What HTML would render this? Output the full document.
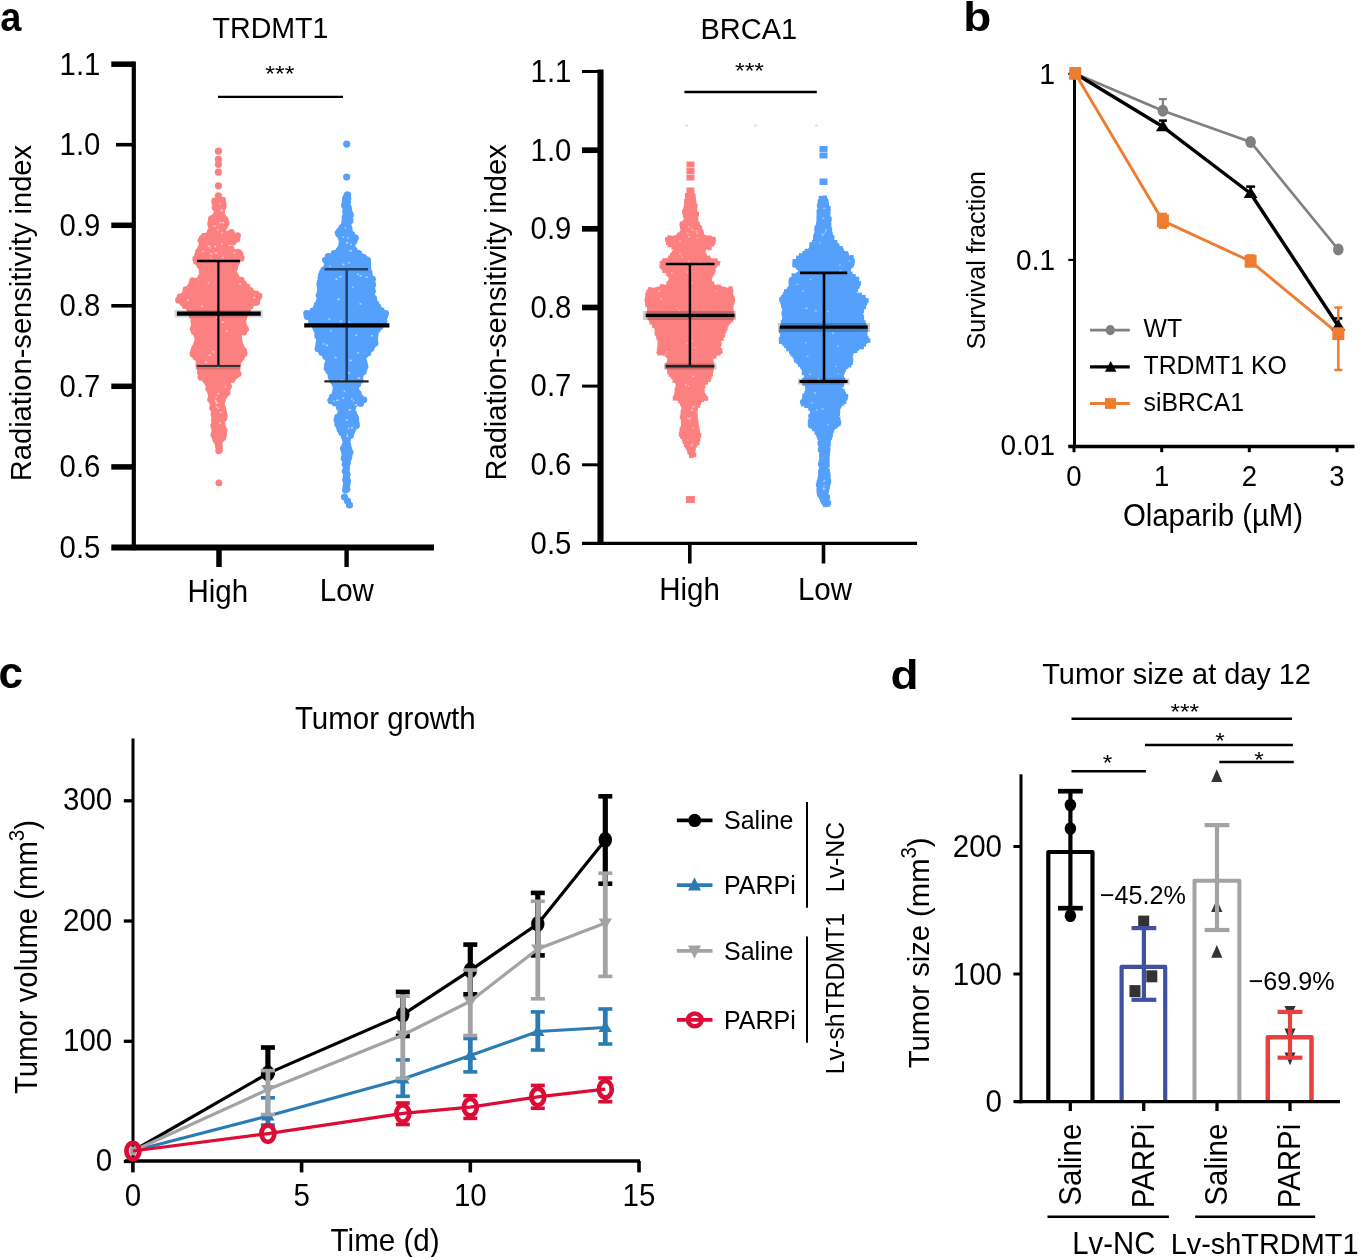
<!DOCTYPE html>
<html><head><meta charset="utf-8"><style>
html,body{margin:0;padding:0;background:#fff;overflow:hidden;}
svg{display:block;will-change:transform;}
text{font-family:"Liberation Sans",sans-serif;}
</style></head><body>
<svg width="1360" height="1257" viewBox="0 0 1360 1257">
<rect width="1360" height="1257" fill="#fff"/>
<g>
<text x="0.0" y="0.0" font-size="40" text-anchor="start" font-weight="bold" fill="#000" transform="translate(0.3,31.2) scale(0.95,1.0)">a</text>
<polygon points="214.0,199.0 211.6,201.6 213.0,207.3 214.4,214.5 209.4,218.8 207.3,224.5 211.6,230.2 201.5,234.5 197.2,240.2 200.1,246.0 195.8,251.7 193.7,257.4 193.7,261.7 199.4,268.9 200.1,276.0 190.8,280.3 186.5,287.5 180.0,294.7 176.5,297.5 176.6,300.0 182.9,304.7 182.7,306.0 188.6,311.8 189.5,313.6 191.7,322.7 189.5,330.2 196.3,336.3 192.5,345.3 189.5,352.9 196.3,360.5 197.0,368.0 197.8,375.6 205.3,383.1 206.9,390.7 208.4,398.2 209.9,405.8 211.4,413.3 212.1,420.9 211.4,428.5 211.4,436.0 214.4,443.6 215.9,449.6 216.5,452.0 221.0,452.0 222.0,449.6 222.0,443.6 226.5,436.0 225.7,428.5 225.0,420.9 227.3,413.3 223.5,405.8 226.5,398.2 230.3,390.7 231.0,383.1 240.1,375.6 240.1,368.0 241.6,360.5 247.7,352.9 243.9,345.3 240.1,336.3 249.2,330.2 245.4,322.7 246.9,313.6 248.8,311.8 253.7,306.0 258.8,304.7 260.5,300.0 261.7,297.5 260.2,294.7 250.2,287.5 243.1,280.3 237.3,276.0 235.9,268.9 240.2,261.7 244.5,257.4 241.6,251.7 227.3,246.0 239.5,240.2 240.2,234.5 225.2,230.2 229.5,224.5 228.0,218.8 223.0,214.5 226.6,207.3 225.9,201.6 223.0,199.0" fill="#fd8081"/>
<g fill="#fd8081"><circle cx="214.7" cy="201.0" r="3.4"/><circle cx="222.6" cy="200.2" r="3.4"/><circle cx="215.2" cy="204.0" r="3.4"/><circle cx="223.0" cy="204.3" r="3.4"/><circle cx="215.0" cy="207.5" r="3.4"/><circle cx="222.4" cy="206.9" r="3.4"/><circle cx="217.3" cy="210.1" r="3.4"/><circle cx="220.9" cy="210.6" r="3.4"/><circle cx="216.6" cy="214.0" r="3.4"/><circle cx="221.6" cy="212.6" r="3.4"/><circle cx="213.9" cy="217.3" r="3.4"/><circle cx="222.5" cy="216.4" r="3.4"/><circle cx="211.4" cy="219.0" r="3.4"/><circle cx="225.0" cy="219.4" r="3.4"/><circle cx="210.8" cy="222.6" r="3.4"/><circle cx="226.0" cy="222.6" r="3.4"/><circle cx="211.0" cy="225.9" r="3.4"/><circle cx="225.1" cy="225.4" r="3.4"/><circle cx="214.9" cy="229.6" r="3.4"/><circle cx="222.9" cy="228.9" r="3.4"/><circle cx="210.2" cy="232.0" r="3.4"/><circle cx="231.4" cy="232.3" r="3.4"/><circle cx="204.1" cy="236.5" r="3.4"/><circle cx="237.5" cy="235.7" r="3.4"/><circle cx="202.0" cy="238.7" r="3.4"/><circle cx="237.0" cy="239.1" r="3.4"/><circle cx="202.2" cy="242.2" r="3.4"/><circle cx="233.1" cy="242.3" r="3.4"/><circle cx="201.7" cy="245.9" r="3.4"/><circle cx="224.9" cy="245.3" r="3.4"/><circle cx="200.4" cy="248.9" r="3.4"/><circle cx="230.9" cy="248.9" r="3.4"/><circle cx="198.5" cy="251.8" r="3.4"/><circle cx="238.4" cy="252.2" r="3.4"/><circle cx="197.7" cy="255.0" r="3.4"/><circle cx="240.0" cy="254.2" r="3.4"/><circle cx="195.7" cy="259.0" r="3.4"/><circle cx="241.1" cy="258.3" r="3.4"/><circle cx="196.5" cy="261.4" r="3.4"/><circle cx="236.6" cy="262.2" r="3.4"/><circle cx="199.7" cy="265.2" r="3.4"/><circle cx="235.5" cy="264.2" r="3.4"/><circle cx="201.6" cy="267.9" r="3.4"/><circle cx="234.6" cy="267.7" r="3.4"/><circle cx="202.1" cy="271.7" r="3.4"/><circle cx="233.4" cy="270.2" r="3.4"/><circle cx="203.7" cy="274.8" r="3.4"/><circle cx="234.7" cy="274.6" r="3.4"/><circle cx="200.9" cy="277.5" r="3.4"/><circle cx="236.2" cy="277.3" r="3.4"/><circle cx="192.6" cy="280.7" r="3.4"/><circle cx="241.2" cy="280.1" r="3.4"/><circle cx="191.8" cy="283.6" r="3.4"/><circle cx="243.5" cy="283.6" r="3.4"/><circle cx="190.0" cy="287.2" r="3.4"/><circle cx="246.9" cy="286.9" r="3.4"/><circle cx="186.0" cy="289.7" r="3.4"/><circle cx="250.2" cy="290.3" r="3.4"/><circle cx="185.1" cy="293.9" r="3.4"/><circle cx="256.1" cy="293.9" r="3.4"/><circle cx="180.1" cy="296.9" r="3.4"/><circle cx="259.0" cy="295.9" r="3.4"/><circle cx="178.5" cy="300.2" r="3.4"/><circle cx="256.4" cy="299.4" r="3.4"/><circle cx="182.7" cy="302.8" r="3.4"/><circle cx="256.7" cy="302.3" r="3.4"/><circle cx="185.1" cy="305.7" r="3.4"/><circle cx="250.5" cy="305.8" r="3.4"/><circle cx="189.7" cy="309.1" r="3.4"/><circle cx="247.7" cy="309.4" r="3.4"/><circle cx="190.9" cy="312.5" r="3.4"/><circle cx="244.6" cy="312.1" r="3.4"/><circle cx="192.2" cy="315.8" r="3.4"/><circle cx="244.4" cy="315.3" r="3.4"/><circle cx="194.1" cy="318.2" r="3.4"/><circle cx="243.7" cy="318.2" r="3.4"/><circle cx="193.8" cy="321.7" r="3.4"/><circle cx="242.9" cy="322.5" r="3.4"/><circle cx="194.4" cy="325.0" r="3.4"/><circle cx="243.8" cy="326.2" r="3.4"/><circle cx="193.7" cy="328.2" r="3.4"/><circle cx="245.4" cy="328.8" r="3.4"/><circle cx="194.1" cy="331.5" r="3.4"/><circle cx="243.9" cy="332.0" r="3.4"/><circle cx="196.9" cy="335.7" r="3.4"/><circle cx="238.5" cy="335.6" r="3.4"/><circle cx="198.1" cy="337.9" r="3.4"/><circle cx="238.7" cy="338.9" r="3.4"/><circle cx="197.8" cy="341.0" r="3.4"/><circle cx="239.0" cy="340.6" r="3.4"/><circle cx="196.8" cy="345.1" r="3.4"/><circle cx="239.4" cy="345.3" r="3.4"/><circle cx="194.7" cy="348.4" r="3.4"/><circle cx="241.3" cy="348.6" r="3.4"/><circle cx="193.8" cy="350.8" r="3.4"/><circle cx="243.7" cy="350.8" r="3.4"/><circle cx="193.0" cy="354.1" r="3.4"/><circle cx="244.0" cy="353.7" r="3.4"/><circle cx="195.6" cy="357.1" r="3.4"/><circle cx="241.4" cy="357.4" r="3.4"/><circle cx="199.0" cy="361.2" r="3.4"/><circle cx="239.4" cy="359.8" r="3.4"/><circle cx="199.0" cy="364.6" r="3.4"/><circle cx="237.5" cy="364.3" r="3.4"/><circle cx="199.6" cy="367.3" r="3.4"/><circle cx="236.6" cy="367.5" r="3.4"/><circle cx="201.3" cy="370.8" r="3.4"/><circle cx="236.7" cy="370.5" r="3.4"/><circle cx="200.6" cy="373.0" r="3.4"/><circle cx="238.2" cy="373.8" r="3.4"/><circle cx="200.9" cy="377.3" r="3.4"/><circle cx="235.0" cy="376.1" r="3.4"/><circle cx="205.7" cy="380.3" r="3.4"/><circle cx="232.2" cy="379.6" r="3.4"/><circle cx="207.9" cy="383.6" r="3.4"/><circle cx="227.6" cy="383.2" r="3.4"/><circle cx="210.1" cy="385.6" r="3.4"/><circle cx="228.6" cy="386.3" r="3.4"/><circle cx="208.7" cy="388.7" r="3.4"/><circle cx="226.3" cy="390.0" r="3.4"/><circle cx="211.0" cy="392.3" r="3.4"/><circle cx="227.1" cy="392.8" r="3.4"/><circle cx="211.7" cy="395.9" r="3.4"/><circle cx="224.4" cy="395.4" r="3.4"/><circle cx="210.6" cy="399.6" r="3.4"/><circle cx="222.6" cy="399.1" r="3.4"/><circle cx="213.3" cy="401.8" r="3.4"/><circle cx="221.8" cy="402.7" r="3.4"/><circle cx="213.7" cy="405.7" r="3.4"/><circle cx="219.4" cy="404.7" r="3.4"/><circle cx="212.6" cy="407.9" r="3.4"/><circle cx="222.8" cy="408.2" r="3.4"/><circle cx="215.3" cy="411.2" r="3.4"/><circle cx="223.3" cy="411.3" r="3.4"/><circle cx="214.0" cy="414.4" r="3.4"/><circle cx="224.3" cy="415.7" r="3.4"/><circle cx="214.6" cy="418.9" r="3.4"/><circle cx="223.9" cy="417.9" r="3.4"/><circle cx="214.5" cy="420.8" r="3.4"/><circle cx="221.9" cy="421.6" r="3.4"/><circle cx="213.7" cy="425.4" r="3.4"/><circle cx="221.1" cy="424.3" r="3.4"/><circle cx="214.8" cy="427.5" r="3.4"/><circle cx="222.5" cy="427.1" r="3.4"/><circle cx="215.5" cy="431.8" r="3.4"/><circle cx="224.0" cy="430.4" r="3.4"/><circle cx="213.8" cy="435.0" r="3.4"/><circle cx="223.5" cy="434.3" r="3.4"/><circle cx="215.5" cy="437.0" r="3.4"/><circle cx="223.0" cy="437.5" r="3.4"/><circle cx="215.8" cy="439.9" r="3.4"/><circle cx="220.1" cy="440.2" r="3.4"/><circle cx="218.7" cy="444.0" r="3.4"/><circle cx="218.8" cy="444.0" r="3.4"/><circle cx="219.4" cy="446.7" r="3.4"/><circle cx="218.7" cy="446.7" r="3.4"/><circle cx="218.7" cy="450.8" r="3.4"/><circle cx="219.5" cy="449.9" r="3.4"/></g>
<g fill="#fff" opacity="0.55"><rect x="221.1" y="313.5" width="2.5" height="1.6"/><rect x="218.7" y="316.8" width="2.0" height="1.6"/><rect x="214.1" y="245.7" width="2.0" height="1.6"/><rect x="214.4" y="399.6" width="1.6" height="1.6"/><rect x="221.8" y="221.9" width="2.1" height="1.6"/><rect x="220.4" y="209.6" width="2.5" height="1.6"/><rect x="222.7" y="364.4" width="1.3" height="1.6"/><rect x="219.1" y="202.8" width="1.2" height="1.6"/><rect x="209.3" y="247.1" width="1.2" height="1.6"/><rect x="215.6" y="316.4" width="2.3" height="1.6"/><rect x="226.2" y="330.3" width="1.8" height="1.6"/><rect x="217.2" y="366.6" width="1.5" height="1.6"/><rect x="219.9" y="411.6" width="1.6" height="1.6"/><rect x="210.5" y="257.1" width="1.2" height="1.6"/><rect x="217.1" y="392.9" width="2.3" height="1.6"/><rect x="253.2" y="296.8" width="2.3" height="1.6"/><rect x="233.5" y="252.1" width="1.8" height="1.6"/><rect x="187.0" y="299.5" width="2.0" height="1.6"/><rect x="215.6" y="396.0" width="1.2" height="1.6"/><rect x="239.2" y="283.1" width="2.2" height="1.6"/><rect x="217.0" y="228.9" width="1.3" height="1.6"/><rect x="215.1" y="400.6" width="1.9" height="1.6"/><rect x="203.3" y="312.2" width="2.2" height="1.6"/><rect x="221.6" y="232.1" width="1.3" height="1.6"/><rect x="201.2" y="305.5" width="1.5" height="1.6"/><rect x="215.9" y="402.3" width="2.4" height="1.6"/><rect x="214.9" y="252.3" width="2.4" height="1.6"/><rect x="204.9" y="361.4" width="2.5" height="1.6"/><rect x="209.9" y="253.0" width="2.2" height="1.6"/><rect x="208.1" y="282.2" width="1.2" height="1.6"/><rect x="219.4" y="221.8" width="1.5" height="1.6"/><rect x="212.5" y="351.1" width="1.8" height="1.6"/><rect x="221.8" y="321.4" width="2.4" height="1.6"/><rect x="207.7" y="245.3" width="2.4" height="1.6"/><rect x="215.8" y="405.9" width="1.4" height="1.6"/><rect x="224.8" y="386.1" width="1.4" height="1.6"/><rect x="218.9" y="422.2" width="1.7" height="1.6"/><rect x="213.3" y="225.3" width="2.5" height="1.6"/><rect x="226.1" y="259.3" width="1.5" height="1.6"/><rect x="217.7" y="407.4" width="1.5" height="1.6"/><rect x="221.1" y="243.4" width="1.2" height="1.6"/><rect x="221.4" y="256.8" width="2.3" height="1.6"/><rect x="208.6" y="354.4" width="2.4" height="1.6"/><rect x="202.2" y="250.6" width="1.5" height="1.6"/><rect x="196.6" y="311.8" width="1.4" height="1.6"/></g>
<circle cx="218.4" cy="151.2" r="3.6" fill="#fd8081" stroke="none" stroke-width="0"/>
<circle cx="218.4" cy="159.3" r="3.6" fill="#fd8081" stroke="none" stroke-width="0"/>
<circle cx="218.4" cy="164.3" r="3.6" fill="#fd8081" stroke="none" stroke-width="0"/>
<circle cx="218.4" cy="172.2" r="3.6" fill="#fd8081" stroke="none" stroke-width="0"/>
<circle cx="218.4" cy="185.8" r="3.6" fill="#fd8081" stroke="none" stroke-width="0"/>
<circle cx="218.4" cy="195.8" r="3.6" fill="#fd8081" stroke="none" stroke-width="0"/>
<circle cx="218.9" cy="482.9" r="3.4" fill="#fd8081" stroke="none" stroke-width="0"/>
<polygon points="344.0,194.0 342.3,196.8 341.5,205.7 343.7,211.6 342.3,219.7 340.8,224.8 334.2,232.2 338.6,238.1 338.6,245.4 334.2,251.3 321.7,258.7 324.6,264.6 320.2,271.9 318.7,279.3 317.2,286.7 317.2,294.0 316.7,300.0 314.2,306.7 304.7,313.9 305.0,317.0 310.0,322.0 315.0,333.4 316.7,341.8 315.0,350.1 325.9,358.5 324.3,366.9 328.4,375.2 330.0,381.4 333.5,386.9 331.8,393.6 326.8,400.3 333.0,404.0 340.1,408.6 335.1,417.0 334.3,425.3 340.1,433.7 342.6,442.1 341.0,450.4 342.6,462.1 343.5,472.1 343.5,480.5 342.6,486.4 344.0,490.0 349.0,490.0 350.2,486.4 350.2,480.5 349.3,472.1 350.2,462.1 352.7,450.4 349.3,442.1 353.5,433.7 359.4,425.3 358.5,417.0 353.5,408.6 362.0,404.0 366.9,400.3 360.2,393.6 358.5,386.9 362.0,381.4 363.5,375.2 368.6,366.9 365.2,358.5 373.6,350.1 377.7,341.8 378.6,333.4 385.0,322.0 388.0,317.0 388.6,313.9 380.3,306.7 376.9,300.0 374.7,294.0 375.4,286.7 374.7,279.3 371.0,271.9 371.0,264.6 371.0,258.7 358.5,251.3 354.8,245.4 358.5,238.1 353.3,232.2 350.4,224.8 352.6,219.7 352.6,211.6 350.4,205.7 350.4,196.8 349.0,194.0" fill="#54a0fb"/>
<g fill="#54a0fb"><circle cx="347.2" cy="194.9" r="3.4"/><circle cx="347.8" cy="194.9" r="3.4"/><circle cx="346.0" cy="199.1" r="3.4"/><circle cx="347.9" cy="198.5" r="3.4"/><circle cx="345.1" cy="202.1" r="3.4"/><circle cx="347.6" cy="201.5" r="3.4"/><circle cx="344.4" cy="205.6" r="3.4"/><circle cx="347.1" cy="206.0" r="3.4"/><circle cx="346.6" cy="208.3" r="3.4"/><circle cx="348.5" cy="208.0" r="3.4"/><circle cx="345.6" cy="211.5" r="3.4"/><circle cx="348.4" cy="211.3" r="3.4"/><circle cx="345.9" cy="214.8" r="3.4"/><circle cx="350.5" cy="214.9" r="3.4"/><circle cx="345.0" cy="217.7" r="3.4"/><circle cx="348.4" cy="217.4" r="3.4"/><circle cx="344.9" cy="221.5" r="3.4"/><circle cx="350.1" cy="220.7" r="3.4"/><circle cx="344.9" cy="224.8" r="3.4"/><circle cx="348.2" cy="225.1" r="3.4"/><circle cx="342.0" cy="227.4" r="3.4"/><circle cx="349.1" cy="228.4" r="3.4"/><circle cx="339.6" cy="231.2" r="3.4"/><circle cx="348.9" cy="231.1" r="3.4"/><circle cx="338.5" cy="234.0" r="3.4"/><circle cx="351.9" cy="234.7" r="3.4"/><circle cx="341.0" cy="237.0" r="3.4"/><circle cx="355.4" cy="237.8" r="3.4"/><circle cx="342.6" cy="240.5" r="3.4"/><circle cx="354.2" cy="241.1" r="3.4"/><circle cx="342.2" cy="243.2" r="3.4"/><circle cx="352.6" cy="243.3" r="3.4"/><circle cx="341.1" cy="247.5" r="3.4"/><circle cx="351.8" cy="246.4" r="3.4"/><circle cx="339.2" cy="250.7" r="3.4"/><circle cx="354.2" cy="250.3" r="3.4"/><circle cx="334.1" cy="253.4" r="3.4"/><circle cx="358.7" cy="253.3" r="3.4"/><circle cx="328.2" cy="256.4" r="3.4"/><circle cx="363.4" cy="257.1" r="3.4"/><circle cx="325.5" cy="260.1" r="3.4"/><circle cx="366.9" cy="260.0" r="3.4"/><circle cx="327.8" cy="263.2" r="3.4"/><circle cx="367.2" cy="262.1" r="3.4"/><circle cx="327.2" cy="265.6" r="3.4"/><circle cx="367.4" cy="266.6" r="3.4"/><circle cx="323.9" cy="269.8" r="3.4"/><circle cx="368.0" cy="268.8" r="3.4"/><circle cx="322.5" cy="272.3" r="3.4"/><circle cx="369.1" cy="272.7" r="3.4"/><circle cx="321.4" cy="275.1" r="3.4"/><circle cx="369.5" cy="275.9" r="3.4"/><circle cx="320.9" cy="278.0" r="3.4"/><circle cx="372.5" cy="279.2" r="3.4"/><circle cx="320.1" cy="282.5" r="3.4"/><circle cx="371.3" cy="281.5" r="3.4"/><circle cx="319.8" cy="285.0" r="3.4"/><circle cx="372.7" cy="284.5" r="3.4"/><circle cx="321.4" cy="287.7" r="3.4"/><circle cx="371.3" cy="288.2" r="3.4"/><circle cx="320.5" cy="291.0" r="3.4"/><circle cx="372.5" cy="291.3" r="3.4"/><circle cx="319.1" cy="295.2" r="3.4"/><circle cx="371.8" cy="295.2" r="3.4"/><circle cx="320.9" cy="298.6" r="3.4"/><circle cx="373.7" cy="298.3" r="3.4"/><circle cx="319.2" cy="301.5" r="3.4"/><circle cx="373.8" cy="300.9" r="3.4"/><circle cx="317.2" cy="305.0" r="3.4"/><circle cx="375.9" cy="303.8" r="3.4"/><circle cx="316.3" cy="307.6" r="3.4"/><circle cx="378.0" cy="307.0" r="3.4"/><circle cx="313.0" cy="311.0" r="3.4"/><circle cx="381.4" cy="310.7" r="3.4"/><circle cx="306.6" cy="313.4" r="3.4"/><circle cx="385.7" cy="313.3" r="3.4"/><circle cx="307.1" cy="316.6" r="3.4"/><circle cx="384.0" cy="317.4" r="3.4"/><circle cx="311.5" cy="321.1" r="3.4"/><circle cx="384.1" cy="321.2" r="3.4"/><circle cx="313.1" cy="323.2" r="3.4"/><circle cx="380.9" cy="323.7" r="3.4"/><circle cx="315.5" cy="327.1" r="3.4"/><circle cx="380.0" cy="326.4" r="3.4"/><circle cx="316.4" cy="329.2" r="3.4"/><circle cx="377.5" cy="329.3" r="3.4"/><circle cx="317.8" cy="333.6" r="3.4"/><circle cx="374.7" cy="332.8" r="3.4"/><circle cx="317.7" cy="336.0" r="3.4"/><circle cx="374.5" cy="335.9" r="3.4"/><circle cx="319.4" cy="339.3" r="3.4"/><circle cx="374.8" cy="339.8" r="3.4"/><circle cx="318.9" cy="343.5" r="3.4"/><circle cx="375.1" cy="343.2" r="3.4"/><circle cx="318.7" cy="346.1" r="3.4"/><circle cx="372.6" cy="345.3" r="3.4"/><circle cx="318.0" cy="348.7" r="3.4"/><circle cx="371.0" cy="348.6" r="3.4"/><circle cx="321.8" cy="352.4" r="3.4"/><circle cx="367.9" cy="353.1" r="3.4"/><circle cx="325.5" cy="356.4" r="3.4"/><circle cx="364.5" cy="355.4" r="3.4"/><circle cx="327.7" cy="358.2" r="3.4"/><circle cx="362.7" cy="358.5" r="3.4"/><circle cx="329.1" cy="361.2" r="3.4"/><circle cx="364.0" cy="361.9" r="3.4"/><circle cx="327.5" cy="364.7" r="3.4"/><circle cx="364.8" cy="365.3" r="3.4"/><circle cx="327.1" cy="368.2" r="3.4"/><circle cx="364.1" cy="369.1" r="3.4"/><circle cx="328.7" cy="371.1" r="3.4"/><circle cx="363.3" cy="371.7" r="3.4"/><circle cx="331.0" cy="375.2" r="3.4"/><circle cx="360.6" cy="374.6" r="3.4"/><circle cx="331.3" cy="377.3" r="3.4"/><circle cx="358.9" cy="378.6" r="3.4"/><circle cx="333.3" cy="381.5" r="3.4"/><circle cx="360.1" cy="380.4" r="3.4"/><circle cx="335.4" cy="384.8" r="3.4"/><circle cx="357.7" cy="384.4" r="3.4"/><circle cx="336.0" cy="388.1" r="3.4"/><circle cx="355.5" cy="387.2" r="3.4"/><circle cx="335.6" cy="391.5" r="3.4"/><circle cx="356.4" cy="391.3" r="3.4"/><circle cx="335.6" cy="393.7" r="3.4"/><circle cx="358.3" cy="393.6" r="3.4"/><circle cx="332.1" cy="397.1" r="3.4"/><circle cx="360.2" cy="397.5" r="3.4"/><circle cx="331.0" cy="400.9" r="3.4"/><circle cx="363.9" cy="399.8" r="3.4"/><circle cx="335.0" cy="403.0" r="3.4"/><circle cx="360.7" cy="403.5" r="3.4"/><circle cx="339.3" cy="407.4" r="3.4"/><circle cx="352.8" cy="407.6" r="3.4"/><circle cx="342.7" cy="409.7" r="3.4"/><circle cx="350.4" cy="409.6" r="3.4"/><circle cx="340.8" cy="413.1" r="3.4"/><circle cx="353.6" cy="413.2" r="3.4"/><circle cx="337.6" cy="417.1" r="3.4"/><circle cx="355.2" cy="416.8" r="3.4"/><circle cx="336.9" cy="419.9" r="3.4"/><circle cx="355.8" cy="419.2" r="3.4"/><circle cx="338.5" cy="423.1" r="3.4"/><circle cx="356.0" cy="422.6" r="3.4"/><circle cx="339.0" cy="426.1" r="3.4"/><circle cx="356.5" cy="425.4" r="3.4"/><circle cx="339.9" cy="429.4" r="3.4"/><circle cx="352.5" cy="429.8" r="3.4"/><circle cx="341.5" cy="432.4" r="3.4"/><circle cx="351.4" cy="432.2" r="3.4"/><circle cx="344.2" cy="435.9" r="3.4"/><circle cx="350.5" cy="435.6" r="3.4"/><circle cx="345.8" cy="439.2" r="3.4"/><circle cx="347.5" cy="439.1" r="3.4"/><circle cx="346.3" cy="441.6" r="3.4"/><circle cx="347.1" cy="442.2" r="3.4"/><circle cx="344.8" cy="446.0" r="3.4"/><circle cx="347.9" cy="445.4" r="3.4"/><circle cx="343.3" cy="448.7" r="3.4"/><circle cx="348.7" cy="449.0" r="3.4"/><circle cx="344.6" cy="450.8" r="3.4"/><circle cx="350.1" cy="452.3" r="3.4"/><circle cx="345.2" cy="455.4" r="3.4"/><circle cx="349.0" cy="455.4" r="3.4"/><circle cx="344.1" cy="458.4" r="3.4"/><circle cx="348.8" cy="457.5" r="3.4"/><circle cx="346.1" cy="460.7" r="3.4"/><circle cx="347.5" cy="461.7" r="3.4"/><circle cx="345.0" cy="464.3" r="3.4"/><circle cx="347.2" cy="464.0" r="3.4"/><circle cx="346.3" cy="467.1" r="3.4"/><circle cx="346.6" cy="468.3" r="3.4"/><circle cx="345.4" cy="470.8" r="3.4"/><circle cx="345.2" cy="471.3" r="3.4"/><circle cx="346.9" cy="474.0" r="3.4"/><circle cx="347.1" cy="474.3" r="3.4"/><circle cx="346.2" cy="477.2" r="3.4"/><circle cx="346.2" cy="476.4" r="3.4"/><circle cx="345.6" cy="479.9" r="3.4"/><circle cx="347.7" cy="480.8" r="3.4"/><circle cx="346.8" cy="483.9" r="3.4"/><circle cx="346.9" cy="484.1" r="3.4"/><circle cx="346.7" cy="486.3" r="3.4"/><circle cx="346.1" cy="486.6" r="3.4"/><circle cx="347.0" cy="489.2" r="3.4"/><circle cx="345.4" cy="490.1" r="3.4"/></g>
<g fill="#fff" opacity="0.55"><rect x="355.2" y="334.5" width="2.1" height="1.6"/><rect x="342.3" y="236.2" width="1.7" height="1.6"/><rect x="359.4" y="275.1" width="2.1" height="1.6"/><rect x="347.8" y="372.0" width="2.1" height="1.6"/><rect x="347.1" y="237.0" width="1.4" height="1.6"/><rect x="342.4" y="397.3" width="1.7" height="1.6"/><rect x="325.7" y="344.6" width="2.5" height="1.6"/><rect x="344.8" y="227.3" width="1.3" height="1.6"/><rect x="352.2" y="286.5" width="1.4" height="1.6"/><rect x="333.4" y="400.3" width="1.4" height="1.6"/><rect x="346.4" y="435.4" width="1.7" height="1.6"/><rect x="345.5" y="370.4" width="1.7" height="1.6"/><rect x="348.6" y="409.0" width="2.5" height="1.6"/><rect x="343.6" y="390.4" width="1.6" height="1.6"/><rect x="351.2" y="398.3" width="1.3" height="1.6"/><rect x="342.5" y="263.6" width="1.9" height="1.6"/><rect x="346.8" y="433.8" width="1.2" height="1.6"/><rect x="348.6" y="321.3" width="1.4" height="1.6"/><rect x="339.7" y="320.5" width="2.2" height="1.6"/><rect x="334.6" y="356.8" width="2.1" height="1.6"/><rect x="339.4" y="275.9" width="2.0" height="1.6"/><rect x="330.4" y="329.9" width="1.5" height="1.6"/><rect x="371.2" y="335.0" width="1.8" height="1.6"/><rect x="350.2" y="243.6" width="1.6" height="1.6"/><rect x="349.5" y="250.0" width="2.4" height="1.6"/><rect x="357.2" y="273.4" width="1.6" height="1.6"/><rect x="329.4" y="265.5" width="1.2" height="1.6"/><rect x="357.6" y="377.2" width="2.6" height="1.6"/><rect x="322.7" y="343.1" width="1.6" height="1.6"/><rect x="351.0" y="427.1" width="2.0" height="1.6"/><rect x="348.2" y="261.9" width="1.8" height="1.6"/><rect x="340.5" y="379.6" width="2.5" height="1.6"/><rect x="345.9" y="242.0" width="2.4" height="1.6"/><rect x="365.8" y="276.4" width="1.9" height="1.6"/><rect x="352.9" y="400.0" width="1.4" height="1.6"/><rect x="335.4" y="278.4" width="2.1" height="1.6"/><rect x="336.2" y="399.5" width="2.4" height="1.6"/><rect x="328.5" y="318.4" width="1.7" height="1.6"/><rect x="349.4" y="359.7" width="2.4" height="1.6"/><rect x="345.7" y="419.1" width="2.0" height="1.6"/><rect x="347.8" y="427.6" width="1.6" height="1.6"/><rect x="359.5" y="303.1" width="1.9" height="1.6"/><rect x="354.9" y="404.2" width="2.3" height="1.6"/><rect x="357.2" y="352.3" width="1.7" height="1.6"/><rect x="337.3" y="298.5" width="2.5" height="1.6"/></g>
<circle cx="346.7" cy="144.1" r="3.6" fill="#54a0fb" stroke="none" stroke-width="0"/>
<circle cx="346.7" cy="177.0" r="3.6" fill="#54a0fb" stroke="none" stroke-width="0"/>
<circle cx="344.5" cy="497.0" r="3.6" fill="#54a0fb" stroke="none" stroke-width="0"/>
<circle cx="347.5" cy="501.0" r="3.6" fill="#54a0fb" stroke="none" stroke-width="0"/>
<circle cx="349.5" cy="505.0" r="3.6" fill="#54a0fb" stroke="none" stroke-width="0"/>
<rect x="195.5" y="364.5" width="46.0" height="5.0" fill="#000" opacity="0.15"/>
<rect x="174.5" y="310" width="88.5" height="7.5" fill="#000" opacity="0.15"/>
<line x1="218.4" y1="261.0" x2="218.4" y2="366.0" stroke="#000" stroke-width="2.2" stroke-linecap="butt"/>
<line x1="197.2" y1="261.0" x2="239.9" y2="261.0" stroke="#000" stroke-width="2.4" stroke-linecap="butt"/>
<line x1="197.0" y1="366.0" x2="240.1" y2="366.0" stroke="#333" stroke-width="2.2" stroke-linecap="butt"/>
<line x1="176.9" y1="313.7" x2="260.7" y2="313.7" stroke="#000" stroke-width="4.3" stroke-linecap="butt"/>
<line x1="346.7" y1="269.3" x2="346.7" y2="381.4" stroke="#22446e" stroke-width="2.6" stroke-linecap="butt"/>
<line x1="324.6" y1="269.3" x2="368.0" y2="269.3" stroke="#22446e" stroke-width="2.6" stroke-linecap="butt"/>
<line x1="324.3" y1="381.4" x2="368.6" y2="381.4" stroke="#222" stroke-width="2.4" stroke-linecap="butt"/>
<line x1="304.2" y1="325.4" x2="389.4" y2="325.4" stroke="#000" stroke-width="4.2" stroke-linecap="butt"/>
<line x1="133.8" y1="61.5" x2="133.8" y2="550.3" stroke="#000" stroke-width="4.2" stroke-linecap="butt"/>
<line x1="111.3" y1="547.4" x2="434.0" y2="547.4" stroke="#000" stroke-width="6" stroke-linecap="butt"/>
<line x1="111.3" y1="64.2" x2="134.0" y2="64.2" stroke="#000" stroke-width="5.5" stroke-linecap="butt"/>
<text x="0.0" y="0.0" font-size="29.3" text-anchor="end" font-weight="normal" fill="#000" transform="translate(100.3,74.5) scale(1.0,1.04)">1.1</text>
<line x1="116.0" y1="144.7" x2="134.0" y2="144.7" stroke="#000" stroke-width="3.6" stroke-linecap="butt"/>
<text x="0.0" y="0.0" font-size="29.3" text-anchor="end" font-weight="normal" fill="#000" transform="translate(100.3,155.0) scale(1.0,1.04)">1.0</text>
<line x1="111.3" y1="225.3" x2="134.0" y2="225.3" stroke="#000" stroke-width="5.5" stroke-linecap="butt"/>
<text x="0.0" y="0.0" font-size="29.3" text-anchor="end" font-weight="normal" fill="#000" transform="translate(100.3,235.6) scale(1.0,1.04)">0.9</text>
<line x1="111.3" y1="305.8" x2="134.0" y2="305.8" stroke="#000" stroke-width="3.6" stroke-linecap="butt"/>
<text x="0.0" y="0.0" font-size="29.3" text-anchor="end" font-weight="normal" fill="#000" transform="translate(100.3,316.1) scale(1.0,1.04)">0.8</text>
<line x1="111.3" y1="386.3" x2="134.0" y2="386.3" stroke="#000" stroke-width="5.5" stroke-linecap="butt"/>
<text x="0.0" y="0.0" font-size="29.3" text-anchor="end" font-weight="normal" fill="#000" transform="translate(100.3,396.6) scale(1.0,1.04)">0.7</text>
<line x1="111.3" y1="466.9" x2="134.0" y2="466.9" stroke="#000" stroke-width="5.5" stroke-linecap="butt"/>
<text x="0.0" y="0.0" font-size="29.3" text-anchor="end" font-weight="normal" fill="#000" transform="translate(100.3,477.2) scale(1.0,1.04)">0.6</text>
<text x="0.0" y="0.0" font-size="29.3" text-anchor="end" font-weight="normal" fill="#000" transform="translate(100.3,557.7) scale(1.0,1.04)">0.5</text>
<line x1="219.0" y1="550.0" x2="219.0" y2="567.0" stroke="#000" stroke-width="5.5" stroke-linecap="butt"/>
<line x1="346.6" y1="550.0" x2="346.6" y2="567.0" stroke="#000" stroke-width="4.4" stroke-linecap="butt"/>
<text x="0.0" y="0.0" font-size="29.5" text-anchor="middle" font-weight="normal" fill="#000" transform="translate(217.8,601.5) scale(1.0,1.04)">High</text>
<text x="0.0" y="0.0" font-size="29.5" text-anchor="middle" font-weight="normal" fill="#000" transform="translate(346.8,601.2) scale(1.0,1.04)">Low</text>
<text x="0.0" y="0.0" font-size="28.6" text-anchor="middle" font-weight="normal" fill="#000" transform="translate(270.5,37.9) scale(1.0,1.04)">TRDMT1</text>
<text x="0.0" y="0.0" font-size="25" text-anchor="middle" font-weight="normal" fill="#000" transform="translate(279.8,81.4) scale(1.0,0.85)">***</text>
<line x1="218.0" y1="96.8" x2="343.0" y2="96.8" stroke="#000" stroke-width="2.3" stroke-linecap="butt"/>
<text x="0.0" y="0.0" font-size="29.1" text-anchor="middle" font-weight="normal" fill="#000" transform="translate(30.6,313.1) rotate(-90) scale(1.0,1.04)">Radiation-sensitivity index</text>
</g>
<g>
<polygon points="686.0,194.0 685.1,198.7 683.7,207.3 682.3,213.0 684.4,218.7 679.4,224.5 680.8,230.2 676.0,235.0 665.8,237.4 667.2,244.5 674.4,250.2 670.8,256.0 659.4,261.7 660.8,267.4 665.8,273.2 669.4,278.9 666.5,284.6 648.6,288.9 645.8,294.6 644.3,300.4 647.2,306.1 647.0,314.7 649.1,321.1 653.9,327.5 656.3,335.5 658.6,341.8 658.6,348.2 656.3,353.0 668.2,357.7 666.0,366.5 668.2,373.7 673.0,380.0 677.7,386.4 674.6,392.8 673.0,397.5 679.3,402.3 681.7,408.7 680.9,418.2 680.9,427.8 679.3,435.7 682.6,440.5 684.9,446.9 688.9,454.8 689.0,457.0 694.0,457.0 695.3,454.8 695.3,446.9 700.0,440.5 700.8,435.7 699.2,427.8 697.6,418.2 696.8,408.7 701.6,402.3 708.0,397.5 704.8,392.8 703.2,386.4 709.6,380.0 712.8,373.7 714.0,366.5 712.8,357.7 723.1,353.0 720.7,348.2 720.7,341.8 723.9,335.5 727.1,327.5 731.9,321.1 734.0,314.7 733.1,306.1 735.3,300.4 733.1,294.6 733.1,288.9 714.5,284.6 710.2,278.9 714.5,273.2 715.9,267.4 720.9,261.7 705.9,256.0 705.2,250.2 715.2,244.5 714.5,237.4 705.0,235.0 700.9,230.2 700.2,224.5 696.6,218.7 698.0,213.0 696.6,207.3 695.9,198.7 695.0,194.0" fill="#fd8081"/>
<g fill="#fd8081"><rect x="684.9" y="192.9" width="4.4" height="4.4"/><rect x="691.2" y="193.3" width="4.4" height="4.4"/><rect x="685.3" y="194.9" width="4.4" height="4.4"/><rect x="690.5" y="196.2" width="4.4" height="4.4"/><rect x="684.0" y="199.1" width="4.4" height="4.4"/><rect x="691.2" y="198.3" width="4.4" height="4.4"/><rect x="685.0" y="201.1" width="4.4" height="4.4"/><rect x="692.0" y="200.3" width="4.4" height="4.4"/><rect x="684.1" y="203.5" width="4.4" height="4.4"/><rect x="693.2" y="203.9" width="4.4" height="4.4"/><rect x="683.6" y="206.5" width="4.4" height="4.4"/><rect x="691.6" y="206.2" width="4.4" height="4.4"/><rect x="682.1" y="209.3" width="4.4" height="4.4"/><rect x="692.2" y="208.7" width="4.4" height="4.4"/><rect x="682.8" y="211.6" width="4.4" height="4.4"/><rect x="694.6" y="212.0" width="4.4" height="4.4"/><rect x="683.0" y="213.8" width="4.4" height="4.4"/><rect x="693.8" y="214.6" width="4.4" height="4.4"/><rect x="685.1" y="215.9" width="4.4" height="4.4"/><rect x="691.5" y="216.0" width="4.4" height="4.4"/><rect x="683.1" y="219.3" width="4.4" height="4.4"/><rect x="693.9" y="218.8" width="4.4" height="4.4"/><rect x="679.7" y="221.5" width="4.4" height="4.4"/><rect x="695.4" y="221.8" width="4.4" height="4.4"/><rect x="679.9" y="224.6" width="4.4" height="4.4"/><rect x="697.2" y="225.0" width="4.4" height="4.4"/><rect x="681.2" y="227.2" width="4.4" height="4.4"/><rect x="697.8" y="226.4" width="4.4" height="4.4"/><rect x="679.9" y="230.1" width="4.4" height="4.4"/><rect x="699.1" y="229.6" width="4.4" height="4.4"/><rect x="677.0" y="232.6" width="4.4" height="4.4"/><rect x="699.5" y="232.2" width="4.4" height="4.4"/><rect x="667.2" y="235.3" width="4.4" height="4.4"/><rect x="707.3" y="235.5" width="4.4" height="4.4"/><rect x="665.0" y="237.2" width="4.4" height="4.4"/><rect x="711.2" y="236.7" width="4.4" height="4.4"/><rect x="666.0" y="240.5" width="4.4" height="4.4"/><rect x="711.4" y="239.2" width="4.4" height="4.4"/><rect x="667.5" y="242.8" width="4.4" height="4.4"/><rect x="709.6" y="242.2" width="4.4" height="4.4"/><rect x="671.4" y="245.1" width="4.4" height="4.4"/><rect x="707.3" y="245.9" width="4.4" height="4.4"/><rect x="673.3" y="247.9" width="4.4" height="4.4"/><rect x="700.5" y="247.0" width="4.4" height="4.4"/><rect x="672.0" y="250.5" width="4.4" height="4.4"/><rect x="701.1" y="249.7" width="4.4" height="4.4"/><rect x="670.0" y="252.6" width="4.4" height="4.4"/><rect x="702.5" y="253.6" width="4.4" height="4.4"/><rect x="668.1" y="255.4" width="4.4" height="4.4"/><rect x="705.9" y="255.5" width="4.4" height="4.4"/><rect x="662.3" y="258.2" width="4.4" height="4.4"/><rect x="713.3" y="258.3" width="4.4" height="4.4"/><rect x="660.5" y="260.6" width="4.4" height="4.4"/><rect x="715.7" y="261.1" width="4.4" height="4.4"/><rect x="659.5" y="264.1" width="4.4" height="4.4"/><rect x="712.9" y="263.3" width="4.4" height="4.4"/><rect x="661.3" y="265.8" width="4.4" height="4.4"/><rect x="710.4" y="266.0" width="4.4" height="4.4"/><rect x="662.3" y="268.7" width="4.4" height="4.4"/><rect x="711.2" y="267.8" width="4.4" height="4.4"/><rect x="665.9" y="271.4" width="4.4" height="4.4"/><rect x="710.2" y="270.9" width="4.4" height="4.4"/><rect x="667.8" y="272.9" width="4.4" height="4.4"/><rect x="708.9" y="273.0" width="4.4" height="4.4"/><rect x="669.3" y="275.9" width="4.4" height="4.4"/><rect x="707.4" y="276.2" width="4.4" height="4.4"/><rect x="668.3" y="278.7" width="4.4" height="4.4"/><rect x="707.2" y="278.6" width="4.4" height="4.4"/><rect x="666.4" y="281.2" width="4.4" height="4.4"/><rect x="709.9" y="281.3" width="4.4" height="4.4"/><rect x="659.9" y="284.2" width="4.4" height="4.4"/><rect x="716.5" y="284.5" width="4.4" height="4.4"/><rect x="647.9" y="287.2" width="4.4" height="4.4"/><rect x="728.3" y="286.3" width="4.4" height="4.4"/><rect x="646.4" y="289.6" width="4.4" height="4.4"/><rect x="728.8" y="288.7" width="4.4" height="4.4"/><rect x="645.4" y="292.4" width="4.4" height="4.4"/><rect x="728.5" y="291.8" width="4.4" height="4.4"/><rect x="645.9" y="294.2" width="4.4" height="4.4"/><rect x="728.9" y="294.7" width="4.4" height="4.4"/><rect x="645.3" y="296.7" width="4.4" height="4.4"/><rect x="730.6" y="296.5" width="4.4" height="4.4"/><rect x="644.9" y="300.2" width="4.4" height="4.4"/><rect x="729.8" y="300.2" width="4.4" height="4.4"/><rect x="645.4" y="302.8" width="4.4" height="4.4"/><rect x="729.0" y="302.5" width="4.4" height="4.4"/><rect x="647.7" y="304.3" width="4.4" height="4.4"/><rect x="728.7" y="304.6" width="4.4" height="4.4"/><rect x="647.6" y="307.3" width="4.4" height="4.4"/><rect x="728.7" y="307.4" width="4.4" height="4.4"/><rect x="646.6" y="310.8" width="4.4" height="4.4"/><rect x="729.4" y="309.5" width="4.4" height="4.4"/><rect x="645.7" y="313.3" width="4.4" height="4.4"/><rect x="730.8" y="313.5" width="4.4" height="4.4"/><rect x="647.5" y="316.0" width="4.4" height="4.4"/><rect x="730.0" y="314.9" width="4.4" height="4.4"/><rect x="649.1" y="318.2" width="4.4" height="4.4"/><rect x="728.9" y="317.9" width="4.4" height="4.4"/><rect x="649.6" y="320.1" width="4.4" height="4.4"/><rect x="726.1" y="319.8" width="4.4" height="4.4"/><rect x="652.2" y="323.6" width="4.4" height="4.4"/><rect x="724.1" y="322.4" width="4.4" height="4.4"/><rect x="654.8" y="326.4" width="4.4" height="4.4"/><rect x="723.2" y="326.3" width="4.4" height="4.4"/><rect x="655.5" y="327.5" width="4.4" height="4.4"/><rect x="721.9" y="328.7" width="4.4" height="4.4"/><rect x="654.6" y="331.2" width="4.4" height="4.4"/><rect x="720.2" y="330.9" width="4.4" height="4.4"/><rect x="655.9" y="333.7" width="4.4" height="4.4"/><rect x="720.7" y="333.2" width="4.4" height="4.4"/><rect x="656.5" y="336.1" width="4.4" height="4.4"/><rect x="719.2" y="336.6" width="4.4" height="4.4"/><rect x="657.7" y="338.8" width="4.4" height="4.4"/><rect x="716.3" y="339.2" width="4.4" height="4.4"/><rect x="657.6" y="342.0" width="4.4" height="4.4"/><rect x="717.2" y="341.8" width="4.4" height="4.4"/><rect x="659.2" y="344.1" width="4.4" height="4.4"/><rect x="715.3" y="344.5" width="4.4" height="4.4"/><rect x="657.1" y="346.1" width="4.4" height="4.4"/><rect x="716.2" y="346.5" width="4.4" height="4.4"/><rect x="656.7" y="349.5" width="4.4" height="4.4"/><rect x="718.0" y="348.3" width="4.4" height="4.4"/><rect x="657.3" y="351.1" width="4.4" height="4.4"/><rect x="716.1" y="351.0" width="4.4" height="4.4"/><rect x="666.1" y="353.6" width="4.4" height="4.4"/><rect x="712.1" y="354.3" width="4.4" height="4.4"/><rect x="667.2" y="356.7" width="4.4" height="4.4"/><rect x="708.4" y="357.1" width="4.4" height="4.4"/><rect x="667.2" y="359.0" width="4.4" height="4.4"/><rect x="708.8" y="359.2" width="4.4" height="4.4"/><rect x="665.4" y="362.4" width="4.4" height="4.4"/><rect x="709.7" y="361.9" width="4.4" height="4.4"/><rect x="664.9" y="364.5" width="4.4" height="4.4"/><rect x="709.0" y="364.9" width="4.4" height="4.4"/><rect x="667.4" y="367.8" width="4.4" height="4.4"/><rect x="709.0" y="367.5" width="4.4" height="4.4"/><rect x="667.3" y="369.9" width="4.4" height="4.4"/><rect x="708.6" y="370.2" width="4.4" height="4.4"/><rect x="668.6" y="372.4" width="4.4" height="4.4"/><rect x="708.6" y="372.1" width="4.4" height="4.4"/><rect x="670.8" y="374.4" width="4.4" height="4.4"/><rect x="707.3" y="375.0" width="4.4" height="4.4"/><rect x="672.5" y="378.4" width="4.4" height="4.4"/><rect x="706.4" y="377.5" width="4.4" height="4.4"/><rect x="675.6" y="379.9" width="4.4" height="4.4"/><rect x="703.6" y="380.2" width="4.4" height="4.4"/><rect x="675.6" y="383.2" width="4.4" height="4.4"/><rect x="701.1" y="383.5" width="4.4" height="4.4"/><rect x="677.6" y="385.9" width="4.4" height="4.4"/><rect x="699.7" y="385.6" width="4.4" height="4.4"/><rect x="674.6" y="387.3" width="4.4" height="4.4"/><rect x="700.2" y="387.5" width="4.4" height="4.4"/><rect x="675.0" y="390.0" width="4.4" height="4.4"/><rect x="699.6" y="390.1" width="4.4" height="4.4"/><rect x="674.4" y="392.5" width="4.4" height="4.4"/><rect x="701.7" y="393.8" width="4.4" height="4.4"/><rect x="672.7" y="396.2" width="4.4" height="4.4"/><rect x="703.8" y="396.4" width="4.4" height="4.4"/><rect x="678.1" y="399.0" width="4.4" height="4.4"/><rect x="699.7" y="397.8" width="4.4" height="4.4"/><rect x="680.1" y="401.4" width="4.4" height="4.4"/><rect x="696.7" y="400.5" width="4.4" height="4.4"/><rect x="681.0" y="403.0" width="4.4" height="4.4"/><rect x="695.8" y="403.4" width="4.4" height="4.4"/><rect x="681.6" y="405.9" width="4.4" height="4.4"/><rect x="693.6" y="405.8" width="4.4" height="4.4"/><rect x="680.7" y="409.3" width="4.4" height="4.4"/><rect x="693.1" y="408.7" width="4.4" height="4.4"/><rect x="680.7" y="411.3" width="4.4" height="4.4"/><rect x="692.8" y="411.4" width="4.4" height="4.4"/><rect x="679.8" y="414.9" width="4.4" height="4.4"/><rect x="693.3" y="414.0" width="4.4" height="4.4"/><rect x="681.3" y="417.0" width="4.4" height="4.4"/><rect x="692.7" y="417.1" width="4.4" height="4.4"/><rect x="681.1" y="419.3" width="4.4" height="4.4"/><rect x="694.0" y="419.5" width="4.4" height="4.4"/><rect x="681.6" y="421.3" width="4.4" height="4.4"/><rect x="693.6" y="422.3" width="4.4" height="4.4"/><rect x="681.7" y="424.4" width="4.4" height="4.4"/><rect x="694.9" y="424.9" width="4.4" height="4.4"/><rect x="679.6" y="426.6" width="4.4" height="4.4"/><rect x="694.8" y="427.2" width="4.4" height="4.4"/><rect x="679.4" y="430.0" width="4.4" height="4.4"/><rect x="695.2" y="430.4" width="4.4" height="4.4"/><rect x="678.8" y="432.2" width="4.4" height="4.4"/><rect x="696.9" y="432.9" width="4.4" height="4.4"/><rect x="680.2" y="434.4" width="4.4" height="4.4"/><rect x="695.8" y="434.1" width="4.4" height="4.4"/><rect x="681.8" y="437.0" width="4.4" height="4.4"/><rect x="695.7" y="437.3" width="4.4" height="4.4"/><rect x="682.6" y="439.5" width="4.4" height="4.4"/><rect x="695.2" y="440.9" width="4.4" height="4.4"/><rect x="683.9" y="442.6" width="4.4" height="4.4"/><rect x="692.8" y="443.2" width="4.4" height="4.4"/><rect x="685.8" y="445.3" width="4.4" height="4.4"/><rect x="691.3" y="445.7" width="4.4" height="4.4"/><rect x="687.2" y="448.3" width="4.4" height="4.4"/><rect x="690.9" y="448.6" width="4.4" height="4.4"/><rect x="687.5" y="450.1" width="4.4" height="4.4"/><rect x="690.5" y="450.8" width="4.4" height="4.4"/><rect x="689.1" y="453.7" width="4.4" height="4.4"/><rect x="691.9" y="452.7" width="4.4" height="4.4"/></g>
<g fill="#fff" opacity="0.45"><rect x="699.5" y="262.1" width="1.8" height="1.4"/><rect x="687.2" y="417.4" width="1.3" height="1.4"/><rect x="686.6" y="232.7" width="1.9" height="1.4"/><rect x="690.8" y="228.2" width="1.2" height="1.4"/><rect x="686.8" y="271.5" width="2.0" height="1.4"/><rect x="664.6" y="354.0" width="1.3" height="1.4"/><rect x="696.1" y="232.6" width="2.0" height="1.4"/><rect x="692.4" y="406.0" width="1.9" height="1.4"/><rect x="691.9" y="443.7" width="1.3" height="1.4"/><rect x="689.2" y="417.5" width="1.9" height="1.4"/><rect x="686.0" y="342.4" width="1.4" height="1.4"/><rect x="676.0" y="307.0" width="1.1" height="1.4"/><rect x="690.8" y="409.6" width="2.2" height="1.4"/><rect x="692.5" y="375.7" width="1.9" height="1.4"/><rect x="692.5" y="229.5" width="1.5" height="1.4"/><rect x="679.2" y="240.5" width="1.6" height="1.4"/><rect x="687.9" y="260.6" width="1.7" height="1.4"/><rect x="660.3" y="298.1" width="1.6" height="1.4"/><rect x="681.8" y="255.9" width="1.2" height="1.4"/><rect x="658.4" y="290.4" width="1.8" height="1.4"/><rect x="690.2" y="444.8" width="1.9" height="1.4"/><rect x="687.2" y="439.4" width="1.2" height="1.4"/><rect x="692.5" y="406.0" width="1.8" height="1.4"/><rect x="688.0" y="236.0" width="2.1" height="1.4"/><rect x="692.5" y="427.1" width="1.2" height="1.4"/><rect x="688.4" y="418.5" width="1.9" height="1.4"/><rect x="695.6" y="230.0" width="1.7" height="1.4"/><rect x="685.1" y="384.1" width="1.8" height="1.4"/><rect x="694.4" y="346.8" width="1.4" height="1.4"/><rect x="687.8" y="385.4" width="1.4" height="1.4"/><rect x="697.1" y="237.3" width="1.1" height="1.4"/><rect x="679.1" y="253.3" width="1.8" height="1.4"/><rect x="692.1" y="340.3" width="1.0" height="1.4"/><rect x="678.3" y="309.6" width="1.1" height="1.4"/><rect x="688.0" y="226.0" width="1.3" height="1.4"/><rect x="666.5" y="351.1" width="1.6" height="1.4"/><rect x="715.6" y="290.4" width="1.0" height="1.4"/><rect x="690.1" y="282.0" width="2.2" height="1.4"/><rect x="688.8" y="329.9" width="1.8" height="1.4"/><rect x="671.0" y="272.0" width="1.6" height="1.4"/></g>
<rect x="686.5" y="161.5" width="8.0" height="6.0" fill="#fd8081"/>
<rect x="686.5" y="168.0" width="8.0" height="6.0" fill="#fd8081"/>
<rect x="686.5" y="174.5" width="8.0" height="6.0" fill="#fd8081"/>
<rect x="686.5" y="187.5" width="8.0" height="6.5" fill="#fd8081"/>
<rect x="686.0" y="496.0" width="9.0" height="7.0" fill="#fd8081"/>
<polygon points="820.0,197.0 819.2,199.2 817.5,208.0 816.6,218.5 815.7,229.0 813.1,239.4 808.7,248.2 800.0,255.2 793.9,260.4 793.0,265.7 799.0,270.9 790.4,277.9 789.5,284.9 784.2,291.9 779.0,298.9 780.7,304.2 782.5,311.2 782.0,319.9 780.0,327.0 780.9,335.1 779.2,341.8 786.7,348.4 791.7,355.1 795.9,361.8 800.9,368.5 804.3,375.2 803.0,381.5 806.0,388.6 802.6,396.9 800.1,402.8 810.1,410.3 809.3,418.6 807.6,425.3 815.1,432.0 818.5,440.4 819.3,448.7 819.3,460.4 819.0,470.4 816.8,482.1 816.8,493.8 821.8,503.9 823.0,506.0 829.0,506.0 830.2,503.9 828.5,493.8 831.0,482.1 828.5,470.4 828.5,460.4 829.3,448.7 831.0,440.4 831.9,432.0 840.2,425.3 839.4,418.6 838.5,410.3 845.2,402.8 847.7,396.9 841.9,388.6 845.0,381.5 843.6,375.2 846.9,368.5 852.7,361.8 851.9,355.1 860.3,348.4 869.5,341.8 866.9,335.1 867.0,327.0 864.0,319.9 863.0,311.2 867.3,304.2 868.2,298.9 856.0,291.9 860.3,284.9 857.7,277.9 849.0,270.9 854.2,265.7 855.1,260.4 849.0,255.2 842.0,248.2 834.1,239.4 831.5,229.0 830.6,218.5 829.7,208.0 828.0,199.2 827.0,197.0" fill="#54a0fb"/>
<g fill="#54a0fb"><rect x="818.7" y="195.9" width="4.4" height="4.4"/><rect x="822.5" y="195.5" width="4.4" height="4.4"/><rect x="817.6" y="199.4" width="4.4" height="4.4"/><rect x="823.9" y="199.2" width="4.4" height="4.4"/><rect x="818.8" y="201.4" width="4.4" height="4.4"/><rect x="824.0" y="200.9" width="4.4" height="4.4"/><rect x="816.9" y="203.4" width="4.4" height="4.4"/><rect x="824.2" y="204.6" width="4.4" height="4.4"/><rect x="818.0" y="207.0" width="4.4" height="4.4"/><rect x="826.3" y="206.0" width="4.4" height="4.4"/><rect x="816.5" y="209.5" width="4.4" height="4.4"/><rect x="826.1" y="209.7" width="4.4" height="4.4"/><rect x="817.7" y="211.9" width="4.4" height="4.4"/><rect x="825.0" y="212.0" width="4.4" height="4.4"/><rect x="816.6" y="214.3" width="4.4" height="4.4"/><rect x="825.5" y="213.6" width="4.4" height="4.4"/><rect x="817.4" y="217.0" width="4.4" height="4.4"/><rect x="827.3" y="216.6" width="4.4" height="4.4"/><rect x="817.1" y="220.1" width="4.4" height="4.4"/><rect x="826.9" y="220.1" width="4.4" height="4.4"/><rect x="815.9" y="222.3" width="4.4" height="4.4"/><rect x="826.7" y="222.0" width="4.4" height="4.4"/><rect x="814.8" y="225.2" width="4.4" height="4.4"/><rect x="826.7" y="224.0" width="4.4" height="4.4"/><rect x="814.3" y="226.9" width="4.4" height="4.4"/><rect x="827.7" y="227.4" width="4.4" height="4.4"/><rect x="814.6" y="230.7" width="4.4" height="4.4"/><rect x="827.7" y="229.4" width="4.4" height="4.4"/><rect x="813.8" y="232.7" width="4.4" height="4.4"/><rect x="828.0" y="232.1" width="4.4" height="4.4"/><rect x="813.1" y="234.8" width="4.4" height="4.4"/><rect x="830.0" y="235.2" width="4.4" height="4.4"/><rect x="813.6" y="237.0" width="4.4" height="4.4"/><rect x="829.4" y="237.3" width="4.4" height="4.4"/><rect x="812.0" y="239.9" width="4.4" height="4.4"/><rect x="833.0" y="240.0" width="4.4" height="4.4"/><rect x="809.3" y="242.2" width="4.4" height="4.4"/><rect x="834.9" y="243.2" width="4.4" height="4.4"/><rect x="809.7" y="245.9" width="4.4" height="4.4"/><rect x="838.5" y="246.2" width="4.4" height="4.4"/><rect x="804.7" y="248.8" width="4.4" height="4.4"/><rect x="839.4" y="248.5" width="4.4" height="4.4"/><rect x="802.4" y="250.9" width="4.4" height="4.4"/><rect x="843.6" y="251.2" width="4.4" height="4.4"/><rect x="798.9" y="253.2" width="4.4" height="4.4"/><rect x="844.4" y="252.7" width="4.4" height="4.4"/><rect x="796.1" y="255.6" width="4.4" height="4.4"/><rect x="849.3" y="255.1" width="4.4" height="4.4"/><rect x="792.5" y="259.0" width="4.4" height="4.4"/><rect x="850.1" y="258.3" width="4.4" height="4.4"/><rect x="792.7" y="261.9" width="4.4" height="4.4"/><rect x="849.5" y="261.0" width="4.4" height="4.4"/><rect x="792.3" y="263.0" width="4.4" height="4.4"/><rect x="848.8" y="263.2" width="4.4" height="4.4"/><rect x="796.4" y="265.6" width="4.4" height="4.4"/><rect x="846.4" y="266.3" width="4.4" height="4.4"/><rect x="797.9" y="268.3" width="4.4" height="4.4"/><rect x="846.3" y="268.9" width="4.4" height="4.4"/><rect x="796.0" y="272.3" width="4.4" height="4.4"/><rect x="848.1" y="271.5" width="4.4" height="4.4"/><rect x="791.5" y="273.4" width="4.4" height="4.4"/><rect x="851.3" y="274.0" width="4.4" height="4.4"/><rect x="789.4" y="277.2" width="4.4" height="4.4"/><rect x="854.8" y="276.7" width="4.4" height="4.4"/><rect x="788.6" y="278.9" width="4.4" height="4.4"/><rect x="854.3" y="278.8" width="4.4" height="4.4"/><rect x="788.7" y="281.3" width="4.4" height="4.4"/><rect x="856.7" y="281.2" width="4.4" height="4.4"/><rect x="788.9" y="285.3" width="4.4" height="4.4"/><rect x="855.2" y="284.3" width="4.4" height="4.4"/><rect x="786.9" y="287.6" width="4.4" height="4.4"/><rect x="853.8" y="287.5" width="4.4" height="4.4"/><rect x="784.0" y="289.2" width="4.4" height="4.4"/><rect x="850.8" y="290.3" width="4.4" height="4.4"/><rect x="783.0" y="292.0" width="4.4" height="4.4"/><rect x="857.4" y="292.6" width="4.4" height="4.4"/><rect x="780.8" y="295.4" width="4.4" height="4.4"/><rect x="861.2" y="294.9" width="4.4" height="4.4"/><rect x="779.4" y="297.1" width="4.4" height="4.4"/><rect x="864.3" y="298.2" width="4.4" height="4.4"/><rect x="781.0" y="300.9" width="4.4" height="4.4"/><rect x="862.4" y="300.8" width="4.4" height="4.4"/><rect x="781.1" y="303.3" width="4.4" height="4.4"/><rect x="861.6" y="302.1" width="4.4" height="4.4"/><rect x="782.5" y="304.6" width="4.4" height="4.4"/><rect x="861.5" y="304.8" width="4.4" height="4.4"/><rect x="782.3" y="308.3" width="4.4" height="4.4"/><rect x="859.7" y="308.6" width="4.4" height="4.4"/><rect x="781.5" y="311.2" width="4.4" height="4.4"/><rect x="857.8" y="309.7" width="4.4" height="4.4"/><rect x="782.9" y="313.6" width="4.4" height="4.4"/><rect x="858.4" y="313.6" width="4.4" height="4.4"/><rect x="782.8" y="316.3" width="4.4" height="4.4"/><rect x="859.7" y="315.2" width="4.4" height="4.4"/><rect x="782.0" y="318.9" width="4.4" height="4.4"/><rect x="859.7" y="318.7" width="4.4" height="4.4"/><rect x="780.8" y="320.1" width="4.4" height="4.4"/><rect x="861.2" y="320.2" width="4.4" height="4.4"/><rect x="780.4" y="324.1" width="4.4" height="4.4"/><rect x="862.2" y="323.7" width="4.4" height="4.4"/><rect x="779.1" y="326.5" width="4.4" height="4.4"/><rect x="862.5" y="326.1" width="4.4" height="4.4"/><rect x="779.0" y="329.2" width="4.4" height="4.4"/><rect x="863.6" y="328.0" width="4.4" height="4.4"/><rect x="780.6" y="331.8" width="4.4" height="4.4"/><rect x="862.5" y="331.0" width="4.4" height="4.4"/><rect x="779.8" y="334.6" width="4.4" height="4.4"/><rect x="863.1" y="333.3" width="4.4" height="4.4"/><rect x="778.8" y="337.1" width="4.4" height="4.4"/><rect x="864.4" y="336.5" width="4.4" height="4.4"/><rect x="778.9" y="339.5" width="4.4" height="4.4"/><rect x="866.0" y="338.4" width="4.4" height="4.4"/><rect x="782.3" y="341.4" width="4.4" height="4.4"/><rect x="861.7" y="342.2" width="4.4" height="4.4"/><rect x="784.1" y="343.8" width="4.4" height="4.4"/><rect x="859.5" y="344.9" width="4.4" height="4.4"/><rect x="786.2" y="346.9" width="4.4" height="4.4"/><rect x="854.4" y="346.6" width="4.4" height="4.4"/><rect x="789.0" y="349.8" width="4.4" height="4.4"/><rect x="853.0" y="348.7" width="4.4" height="4.4"/><rect x="790.4" y="352.1" width="4.4" height="4.4"/><rect x="848.8" y="352.4" width="4.4" height="4.4"/><rect x="792.6" y="354.3" width="4.4" height="4.4"/><rect x="846.9" y="355.3" width="4.4" height="4.4"/><rect x="793.9" y="358.1" width="4.4" height="4.4"/><rect x="848.9" y="357.5" width="4.4" height="4.4"/><rect x="796.3" y="359.6" width="4.4" height="4.4"/><rect x="848.5" y="360.6" width="4.4" height="4.4"/><rect x="797.8" y="362.2" width="4.4" height="4.4"/><rect x="847.0" y="363.1" width="4.4" height="4.4"/><rect x="800.5" y="365.0" width="4.4" height="4.4"/><rect x="844.0" y="364.5" width="4.4" height="4.4"/><rect x="802.0" y="368.0" width="4.4" height="4.4"/><rect x="841.7" y="367.1" width="4.4" height="4.4"/><rect x="801.7" y="370.8" width="4.4" height="4.4"/><rect x="839.9" y="369.8" width="4.4" height="4.4"/><rect x="805.0" y="373.0" width="4.4" height="4.4"/><rect x="839.2" y="372.7" width="4.4" height="4.4"/><rect x="803.9" y="375.3" width="4.4" height="4.4"/><rect x="839.0" y="376.2" width="4.4" height="4.4"/><rect x="802.3" y="377.8" width="4.4" height="4.4"/><rect x="840.9" y="377.8" width="4.4" height="4.4"/><rect x="802.2" y="381.4" width="4.4" height="4.4"/><rect x="839.1" y="381.2" width="4.4" height="4.4"/><rect x="805.2" y="384.0" width="4.4" height="4.4"/><rect x="839.8" y="382.8" width="4.4" height="4.4"/><rect x="805.8" y="386.0" width="4.4" height="4.4"/><rect x="837.9" y="386.6" width="4.4" height="4.4"/><rect x="805.5" y="387.9" width="4.4" height="4.4"/><rect x="840.3" y="388.7" width="4.4" height="4.4"/><rect x="804.3" y="391.3" width="4.4" height="4.4"/><rect x="841.6" y="391.6" width="4.4" height="4.4"/><rect x="802.3" y="393.5" width="4.4" height="4.4"/><rect x="843.8" y="393.9" width="4.4" height="4.4"/><rect x="802.7" y="396.0" width="4.4" height="4.4"/><rect x="843.3" y="395.9" width="4.4" height="4.4"/><rect x="800.2" y="399.7" width="4.4" height="4.4"/><rect x="842.0" y="399.5" width="4.4" height="4.4"/><rect x="800.8" y="402.0" width="4.4" height="4.4"/><rect x="840.0" y="401.2" width="4.4" height="4.4"/><rect x="804.3" y="403.6" width="4.4" height="4.4"/><rect x="836.7" y="404.2" width="4.4" height="4.4"/><rect x="808.5" y="406.5" width="4.4" height="4.4"/><rect x="835.8" y="407.4" width="4.4" height="4.4"/><rect x="810.1" y="408.6" width="4.4" height="4.4"/><rect x="833.6" y="410.1" width="4.4" height="4.4"/><rect x="810.7" y="412.1" width="4.4" height="4.4"/><rect x="835.7" y="411.6" width="4.4" height="4.4"/><rect x="808.3" y="414.1" width="4.4" height="4.4"/><rect x="834.4" y="415.2" width="4.4" height="4.4"/><rect x="809.8" y="416.5" width="4.4" height="4.4"/><rect x="836.0" y="416.7" width="4.4" height="4.4"/><rect x="807.8" y="419.2" width="4.4" height="4.4"/><rect x="836.7" y="420.2" width="4.4" height="4.4"/><rect x="808.0" y="423.0" width="4.4" height="4.4"/><rect x="836.0" y="421.9" width="4.4" height="4.4"/><rect x="809.5" y="424.3" width="4.4" height="4.4"/><rect x="833.0" y="424.2" width="4.4" height="4.4"/><rect x="811.9" y="426.8" width="4.4" height="4.4"/><rect x="829.7" y="428.3" width="4.4" height="4.4"/><rect x="814.5" y="430.4" width="4.4" height="4.4"/><rect x="828.6" y="430.5" width="4.4" height="4.4"/><rect x="816.4" y="433.3" width="4.4" height="4.4"/><rect x="828.5" y="433.1" width="4.4" height="4.4"/><rect x="817.3" y="435.7" width="4.4" height="4.4"/><rect x="827.6" y="435.4" width="4.4" height="4.4"/><rect x="818.2" y="438.5" width="4.4" height="4.4"/><rect x="826.0" y="437.9" width="4.4" height="4.4"/><rect x="817.5" y="441.1" width="4.4" height="4.4"/><rect x="825.6" y="440.1" width="4.4" height="4.4"/><rect x="818.5" y="443.7" width="4.4" height="4.4"/><rect x="826.3" y="442.8" width="4.4" height="4.4"/><rect x="818.7" y="444.9" width="4.4" height="4.4"/><rect x="825.1" y="446.3" width="4.4" height="4.4"/><rect x="817.9" y="447.7" width="4.4" height="4.4"/><rect x="826.1" y="447.8" width="4.4" height="4.4"/><rect x="819.9" y="450.5" width="4.4" height="4.4"/><rect x="825.6" y="451.0" width="4.4" height="4.4"/><rect x="819.0" y="453.0" width="4.4" height="4.4"/><rect x="825.2" y="454.0" width="4.4" height="4.4"/><rect x="820.3" y="456.8" width="4.4" height="4.4"/><rect x="825.0" y="456.8" width="4.4" height="4.4"/><rect x="818.8" y="459.2" width="4.4" height="4.4"/><rect x="825.2" y="458.8" width="4.4" height="4.4"/><rect x="818.0" y="462.0" width="4.4" height="4.4"/><rect x="824.6" y="461.0" width="4.4" height="4.4"/><rect x="819.3" y="464.1" width="4.4" height="4.4"/><rect x="825.3" y="463.2" width="4.4" height="4.4"/><rect x="819.1" y="467.1" width="4.4" height="4.4"/><rect x="823.7" y="466.8" width="4.4" height="4.4"/><rect x="818.1" y="469.3" width="4.4" height="4.4"/><rect x="825.5" y="468.8" width="4.4" height="4.4"/><rect x="818.9" y="472.3" width="4.4" height="4.4"/><rect x="826.0" y="472.3" width="4.4" height="4.4"/><rect x="818.0" y="474.5" width="4.4" height="4.4"/><rect x="826.1" y="474.3" width="4.4" height="4.4"/><rect x="818.3" y="476.2" width="4.4" height="4.4"/><rect x="825.8" y="477.2" width="4.4" height="4.4"/><rect x="816.7" y="479.7" width="4.4" height="4.4"/><rect x="826.8" y="479.1" width="4.4" height="4.4"/><rect x="815.9" y="482.6" width="4.4" height="4.4"/><rect x="825.3" y="482.8" width="4.4" height="4.4"/><rect x="817.1" y="485.5" width="4.4" height="4.4"/><rect x="824.9" y="485.2" width="4.4" height="4.4"/><rect x="816.6" y="487.9" width="4.4" height="4.4"/><rect x="824.0" y="487.5" width="4.4" height="4.4"/><rect x="816.9" y="490.3" width="4.4" height="4.4"/><rect x="823.5" y="489.2" width="4.4" height="4.4"/><rect x="817.0" y="492.3" width="4.4" height="4.4"/><rect x="823.6" y="493.1" width="4.4" height="4.4"/><rect x="818.9" y="494.8" width="4.4" height="4.4"/><rect x="825.7" y="494.9" width="4.4" height="4.4"/><rect x="819.9" y="497.6" width="4.4" height="4.4"/><rect x="824.2" y="498.5" width="4.4" height="4.4"/><rect x="821.5" y="500.0" width="4.4" height="4.4"/><rect x="826.7" y="500.6" width="4.4" height="4.4"/><rect x="823.0" y="502.8" width="4.4" height="4.4"/><rect x="825.8" y="502.4" width="4.4" height="4.4"/></g>
<g fill="#fff" opacity="0.45"><rect x="824.9" y="230.0" width="1.8" height="1.4"/><rect x="822.6" y="487.6" width="1.3" height="1.4"/><rect x="827.5" y="423.8" width="1.4" height="1.4"/><rect x="821.6" y="408.4" width="2.0" height="1.4"/><rect x="821.4" y="233.6" width="2.1" height="1.4"/><rect x="805.8" y="307.6" width="2.0" height="1.4"/><rect x="814.0" y="392.2" width="1.7" height="1.4"/><rect x="811.2" y="402.2" width="1.8" height="1.4"/><rect x="822.2" y="235.0" width="1.1" height="1.4"/><rect x="848.7" y="260.2" width="1.5" height="1.4"/><rect x="832.0" y="332.5" width="2.1" height="1.4"/><rect x="816.0" y="409.2" width="1.7" height="1.4"/><rect x="814.8" y="392.8" width="1.1" height="1.4"/><rect x="806.8" y="355.8" width="1.6" height="1.4"/><rect x="839.1" y="264.4" width="1.6" height="1.4"/><rect x="825.4" y="228.7" width="1.1" height="1.4"/><rect x="796.3" y="283.7" width="1.9" height="1.4"/><rect x="823.8" y="232.2" width="1.1" height="1.4"/><rect x="837.1" y="345.5" width="1.7" height="1.4"/><rect x="822.9" y="337.6" width="1.5" height="1.4"/><rect x="811.1" y="381.0" width="1.6" height="1.4"/><rect x="839.3" y="270.0" width="2.2" height="1.4"/><rect x="822.2" y="217.5" width="1.9" height="1.4"/><rect x="809.1" y="373.6" width="1.9" height="1.4"/><rect x="823.0" y="488.7" width="1.4" height="1.4"/><rect x="837.8" y="372.9" width="1.3" height="1.4"/><rect x="802.0" y="290.4" width="1.8" height="1.4"/><rect x="804.9" y="342.0" width="1.5" height="1.4"/><rect x="823.2" y="207.7" width="2.2" height="1.4"/><rect x="817.3" y="378.1" width="2.2" height="1.4"/><rect x="805.1" y="307.7" width="1.0" height="1.4"/><rect x="819.7" y="242.2" width="1.3" height="1.4"/><rect x="809.6" y="278.7" width="1.7" height="1.4"/><rect x="823.1" y="480.4" width="1.9" height="1.4"/><rect x="827.1" y="310.9" width="1.7" height="1.4"/><rect x="824.0" y="488.2" width="1.6" height="1.4"/><rect x="814.7" y="310.2" width="2.2" height="1.4"/><rect x="835.1" y="365.7" width="1.4" height="1.4"/><rect x="824.2" y="479.8" width="1.3" height="1.4"/><rect x="823.4" y="485.5" width="1.4" height="1.4"/></g>
<rect x="819.5" y="146.0" width="8.0" height="6.0" fill="#54a0fb"/>
<rect x="819.5" y="152.5" width="8.0" height="6.0" fill="#54a0fb"/>
<rect x="819.5" y="178.5" width="8.0" height="6.5" fill="#54a0fb"/>
<rect x="643" y="311" width="93" height="9" fill="#000" opacity="0.2"/>
<rect x="778" y="323" width="92" height="9" fill="#000" opacity="0.2"/>
<rect x="664" y="363.5" width="52.5" height="6.0" fill="#000" opacity="0.2"/>
<rect x="798" y="378.5" width="51.5" height="6.0" fill="#000" opacity="0.2"/>
<line x1="689.9" y1="263.8" x2="689.9" y2="366.3" stroke="#000" stroke-width="2.4" stroke-linecap="butt"/>
<line x1="665.8" y1="264.0" x2="714.5" y2="264.0" stroke="#000" stroke-width="2.6" stroke-linecap="butt"/>
<line x1="665.8" y1="366.3" x2="714.4" y2="366.3" stroke="#222" stroke-width="2.6" stroke-linecap="butt"/>
<line x1="645.8" y1="315.3" x2="734.3" y2="315.3" stroke="#000" stroke-width="3.2" stroke-linecap="butt"/>
<line x1="824.0" y1="272.8" x2="824.0" y2="381.5" stroke="#000" stroke-width="2.6" stroke-linecap="butt"/>
<line x1="800.0" y1="272.8" x2="847.2" y2="272.8" stroke="#000" stroke-width="2.8" stroke-linecap="butt"/>
<line x1="799.5" y1="381.5" x2="847.6" y2="381.5" stroke="#000" stroke-width="2.8" stroke-linecap="butt"/>
<line x1="780.0" y1="327.1" x2="867.8" y2="327.1" stroke="#000" stroke-width="3.2" stroke-linecap="butt"/>
<line x1="600.5" y1="69.5" x2="600.5" y2="545.0" stroke="#000" stroke-width="6.1" stroke-linecap="butt"/>
<line x1="582.0" y1="543.4" x2="917.0" y2="543.4" stroke="#000" stroke-width="3.2" stroke-linecap="butt"/>
<line x1="582.0" y1="71.5" x2="600.0" y2="71.5" stroke="#000" stroke-width="3" stroke-linecap="butt"/>
<text x="0.0" y="0.0" font-size="29.3" text-anchor="end" font-weight="normal" fill="#000" transform="translate(571.3,81.8) scale(1.0,1.04)">1.1</text>
<line x1="582.0" y1="150.2" x2="600.0" y2="150.2" stroke="#000" stroke-width="5.7" stroke-linecap="butt"/>
<text x="0.0" y="0.0" font-size="29.3" text-anchor="end" font-weight="normal" fill="#000" transform="translate(571.3,160.5) scale(1.0,1.04)">1.0</text>
<line x1="582.0" y1="228.8" x2="600.0" y2="228.8" stroke="#000" stroke-width="5.7" stroke-linecap="butt"/>
<text x="0.0" y="0.0" font-size="29.3" text-anchor="end" font-weight="normal" fill="#000" transform="translate(571.3,239.1) scale(1.0,1.04)">0.9</text>
<line x1="582.0" y1="307.5" x2="600.0" y2="307.5" stroke="#000" stroke-width="5.7" stroke-linecap="butt"/>
<text x="0.0" y="0.0" font-size="29.3" text-anchor="end" font-weight="normal" fill="#000" transform="translate(571.3,317.8) scale(1.0,1.04)">0.8</text>
<line x1="582.0" y1="386.1" x2="600.0" y2="386.1" stroke="#000" stroke-width="3" stroke-linecap="butt"/>
<text x="0.0" y="0.0" font-size="29.3" text-anchor="end" font-weight="normal" fill="#000" transform="translate(571.3,396.4) scale(1.0,1.04)">0.7</text>
<line x1="582.0" y1="464.8" x2="600.0" y2="464.8" stroke="#000" stroke-width="3" stroke-linecap="butt"/>
<text x="0.0" y="0.0" font-size="29.3" text-anchor="end" font-weight="normal" fill="#000" transform="translate(571.3,475.1) scale(1.0,1.04)">0.6</text>
<text x="0.0" y="0.0" font-size="29.3" text-anchor="end" font-weight="normal" fill="#000" transform="translate(571.3,553.7) scale(1.0,1.04)">0.5</text>
<line x1="689.8" y1="543.0" x2="689.8" y2="563.5" stroke="#000" stroke-width="3.6" stroke-linecap="butt"/>
<line x1="823.5" y1="543.0" x2="823.5" y2="563.5" stroke="#000" stroke-width="3.6" stroke-linecap="butt"/>
<text x="0.0" y="0.0" font-size="29.5" text-anchor="middle" font-weight="normal" fill="#000" transform="translate(689.6,600.0) scale(1.0,1.04)">High</text>
<text x="0.0" y="0.0" font-size="29.5" text-anchor="middle" font-weight="normal" fill="#000" transform="translate(825.0,600.0) scale(1.0,1.04)">Low</text>
<text x="0.0" y="0.0" font-size="29" text-anchor="middle" font-weight="normal" fill="#000" transform="translate(748.8,38.5) scale(1.0,1.04)">BRCA1</text>
<text x="0.0" y="0.0" font-size="25" text-anchor="middle" font-weight="normal" fill="#000" transform="translate(749.5,77.5) scale(1.0,0.85)">***</text>
<rect x="685.0" y="124.5" width="3.0" height="2.0" fill="#e2e2e2"/>
<rect x="754.0" y="124.5" width="3.0" height="2.0" fill="#e2e2e2"/>
<rect x="815.0" y="124.5" width="3.0" height="2.0" fill="#e2e2e2"/>
<line x1="684.4" y1="92.0" x2="816.8" y2="92.0" stroke="#000" stroke-width="2.3" stroke-linecap="butt"/>
<text x="0.0" y="0.0" font-size="29.1" text-anchor="middle" font-weight="normal" fill="#000" transform="translate(505.5,312.4) rotate(-90) scale(1.0,1.04)">Radiation-sensitivity index</text>
</g>
<g>
<text x="0.0" y="0.0" font-size="41" text-anchor="start" font-weight="bold" fill="#000" transform="translate(963.2,30.8) scale(1.12,0.98)">b</text>
<line x1="1074.5" y1="72.0" x2="1074.5" y2="448.0" stroke="#000" stroke-width="3" stroke-linecap="butt"/>
<line x1="1068.4" y1="446.5" x2="1354.5" y2="446.5" stroke="#000" stroke-width="3.3" stroke-linecap="butt"/>
<line x1="1068.3" y1="73.8" x2="1074.5" y2="73.8" stroke="#000" stroke-width="2.2" stroke-linecap="butt"/>
<line x1="1068.3" y1="259.9" x2="1074.5" y2="259.9" stroke="#000" stroke-width="2.2" stroke-linecap="butt"/>
<line x1="1068.3" y1="446.0" x2="1074.5" y2="446.0" stroke="#000" stroke-width="2.2" stroke-linecap="butt"/>
<line x1="1074.0" y1="446.5" x2="1074.0" y2="452.2" stroke="#000" stroke-width="3" stroke-linecap="butt"/>
<text x="0.0" y="0.0" font-size="27.5" text-anchor="middle" font-weight="normal" fill="#000" transform="translate(1074.0,485.5) scale(1.0,1.04)">0</text>
<line x1="1161.7" y1="446.5" x2="1161.7" y2="452.2" stroke="#000" stroke-width="3" stroke-linecap="butt"/>
<text x="0.0" y="0.0" font-size="27.5" text-anchor="middle" font-weight="normal" fill="#000" transform="translate(1161.7,485.5) scale(1.0,1.04)">1</text>
<line x1="1249.3" y1="446.5" x2="1249.3" y2="452.2" stroke="#000" stroke-width="3" stroke-linecap="butt"/>
<text x="0.0" y="0.0" font-size="27.5" text-anchor="middle" font-weight="normal" fill="#000" transform="translate(1249.3,485.5) scale(1.0,1.04)">2</text>
<line x1="1337.0" y1="446.5" x2="1337.0" y2="452.2" stroke="#000" stroke-width="3" stroke-linecap="butt"/>
<text x="0.0" y="0.0" font-size="27.5" text-anchor="middle" font-weight="normal" fill="#000" transform="translate(1337.0,485.5) scale(1.0,1.04)">3</text>
<text x="0.0" y="0.0" font-size="28.5" text-anchor="end" font-weight="normal" fill="#000" transform="translate(1055.0,83.5) scale(1.0,1.04)">1</text>
<text x="0.0" y="0.0" font-size="28" text-anchor="end" font-weight="normal" fill="#000" transform="translate(1055.0,269.5) scale(1.0,1.04)">0.1</text>
<text x="0.0" y="0.0" font-size="28" text-anchor="end" font-weight="normal" fill="#000" transform="translate(1055.0,455.0) scale(1.0,1.04)">0.01</text>
<text x="0.0" y="0.0" font-size="29.4" text-anchor="middle" font-weight="normal" fill="#000" transform="translate(1213.0,526.0) scale(1.0,1.04)">Olaparib (µM)</text>
<text x="0.0" y="0.0" font-size="25.1" text-anchor="middle" font-weight="normal" fill="#000" transform="translate(984.5,260.2) rotate(-90) scale(1.0,1.04)">Survival fraction</text>
<line x1="1162.9" y1="99.1" x2="1162.9" y2="110.0" stroke="#808080" stroke-width="2.2" stroke-linecap="butt"/>
<line x1="1158.9" y1="99.1" x2="1166.9" y2="99.1" stroke="#808080" stroke-width="2.2" stroke-linecap="butt"/>
<line x1="1162.9" y1="120.6" x2="1162.9" y2="127.0" stroke="#000" stroke-width="2.5" stroke-linecap="butt"/>
<line x1="1158.9" y1="120.6" x2="1166.9" y2="120.6" stroke="#000" stroke-width="2.5" stroke-linecap="butt"/>
<line x1="1250.6" y1="186.6" x2="1250.6" y2="193.0" stroke="#000" stroke-width="2.5" stroke-linecap="butt"/>
<line x1="1246.1" y1="186.6" x2="1255.1" y2="186.6" stroke="#000" stroke-width="2.5" stroke-linecap="butt"/>
<line x1="1338.3" y1="318.4" x2="1338.3" y2="326.0" stroke="#000" stroke-width="2.5" stroke-linecap="butt"/>
<line x1="1334.3" y1="318.4" x2="1342.3" y2="318.4" stroke="#000" stroke-width="2.5" stroke-linecap="butt"/>
<line x1="1338.3" y1="307.5" x2="1338.3" y2="370.0" stroke="#ee7d31" stroke-width="2.5" stroke-linecap="butt"/>
<line x1="1334.3" y1="307.5" x2="1342.3" y2="307.5" stroke="#ee7d31" stroke-width="2.5" stroke-linecap="butt"/>
<line x1="1334.3" y1="370.0" x2="1342.3" y2="370.0" stroke="#ee7d31" stroke-width="2.5" stroke-linecap="butt"/>
<polyline points="1075.2,73.5 1162.9,110.7 1250.6,142.0 1338.3,249.5" fill="none" stroke="#808080" stroke-width="2.7" stroke-linejoin="round"/>
<polyline points="1075.2,73.5 1162.9,126.8 1250.6,193.5 1338.3,326.0" fill="none" stroke="#000" stroke-width="3.4" stroke-linejoin="round"/>
<polyline points="1075.2,73.4 1162.9,220.9 1250.6,261.3 1338.3,333.7" fill="none" stroke="#ee7d31" stroke-width="2.9" stroke-linejoin="round"/>
<ellipse cx="1075.2" cy="73.5" rx="5.3" ry="6" fill="#808080" stroke="none" stroke-width="0"/>
<ellipse cx="1162.9" cy="110.7" rx="5.3" ry="6" fill="#808080" stroke="none" stroke-width="0"/>
<ellipse cx="1250.6" cy="142.0" rx="5.3" ry="6" fill="#808080" stroke="none" stroke-width="0"/>
<ellipse cx="1338.3" cy="249.5" rx="5.3" ry="6" fill="#808080" stroke="none" stroke-width="0"/>
<polygon points="1162.9,120.2 1155.9,131.2 1169.9,131.2" fill="#000"/>
<polygon points="1250.6,186.9 1243.6,197.9 1257.6,197.9" fill="#000"/>
<polygon points="1338.3,319.4 1331.3,330.4 1345.3,330.4" fill="#000"/>
<rect x="1069.2" y="67.0" width="12.0" height="12.8" fill="#ee7d31"/>
<rect x="1156.9" y="214.5" width="12.0" height="12.8" fill="#ee7d31"/>
<rect x="1244.6" y="254.9" width="12.0" height="12.8" fill="#ee7d31"/>
<rect x="1332.3" y="327.3" width="12.0" height="12.8" fill="#ee7d31"/>
<line x1="1158.7" y1="213.8" x2="1167.1" y2="213.8" stroke="#ee7d31" stroke-width="2.2" stroke-linecap="butt"/>
<line x1="1158.7" y1="227.8" x2="1167.1" y2="227.8" stroke="#ee7d31" stroke-width="2.2" stroke-linecap="butt"/>
<line x1="1246.4" y1="255.2" x2="1254.8" y2="255.2" stroke="#ee7d31" stroke-width="2" stroke-linecap="butt"/>
<line x1="1090.0" y1="330.2" x2="1129.8" y2="330.2" stroke="#808080" stroke-width="2.7" stroke-linecap="butt"/>
<ellipse cx="1110.3" cy="330.2" rx="4.6" ry="5.1" fill="#808080" stroke="none" stroke-width="0"/>
<text x="0.0" y="0.0" font-size="24.8" text-anchor="start" font-weight="normal" fill="#000" transform="translate(1143.5,337.2) scale(1.0,1.04)">WT</text>
<line x1="1090.0" y1="366.9" x2="1129.8" y2="366.9" stroke="#000" stroke-width="3.2" stroke-linecap="butt"/>
<polygon points="1110.7,360.9 1105.0,371.8 1116.4,371.8" fill="#000"/>
<text x="0.0" y="0.0" font-size="24.8" text-anchor="start" font-weight="normal" fill="#000" transform="translate(1143.5,374.4) scale(1.0,1.04)">TRDMT1 KO</text>
<line x1="1090.0" y1="403.5" x2="1129.8" y2="403.5" stroke="#ee7d31" stroke-width="3.2" stroke-linecap="butt"/>
<rect x="1105.0" y="398.1" width="10.9" height="10.8" fill="#ee7d31"/>
<text x="0.0" y="0.0" font-size="24.8" text-anchor="start" font-weight="normal" fill="#000" transform="translate(1143.5,410.8) scale(1.0,1.04)">siBRCA1</text>
</g>
<g>
<text x="0.0" y="0.0" font-size="44" text-anchor="start" font-weight="bold" fill="#000" transform="translate(-1.5,687.8) scale(1.0,1.02)">c</text>
<line x1="133.0" y1="738.5" x2="133.0" y2="1162.8" stroke="#000" stroke-width="3" stroke-linecap="butt"/>
<line x1="125.0" y1="1161.0" x2="640.0" y2="1161.0" stroke="#000" stroke-width="3.6" stroke-linecap="butt"/>
<line x1="123.8" y1="800.8" x2="133.0" y2="800.8" stroke="#000" stroke-width="3.3" stroke-linecap="butt"/>
<text x="0.0" y="0.0" font-size="29.5" text-anchor="end" font-weight="normal" fill="#000" transform="translate(112.2,810.4) scale(1.0,1.04)">300</text>
<line x1="123.8" y1="921.0" x2="133.0" y2="921.0" stroke="#000" stroke-width="3.3" stroke-linecap="butt"/>
<text x="0.0" y="0.0" font-size="29.5" text-anchor="end" font-weight="normal" fill="#000" transform="translate(112.2,930.6) scale(1.0,1.04)">200</text>
<line x1="123.8" y1="1041.3" x2="133.0" y2="1041.3" stroke="#000" stroke-width="3.3" stroke-linecap="butt"/>
<text x="0.0" y="0.0" font-size="29.5" text-anchor="end" font-weight="normal" fill="#000" transform="translate(112.2,1050.9) scale(1.0,1.04)">100</text>
<line x1="123.8" y1="1161.5" x2="133.0" y2="1161.5" stroke="#000" stroke-width="3.3" stroke-linecap="butt"/>
<text x="0.0" y="0.0" font-size="29.5" text-anchor="end" font-weight="normal" fill="#000" transform="translate(112.2,1171.1) scale(1.0,1.04)">0</text>
<line x1="132.9" y1="1161.0" x2="132.9" y2="1172.4" stroke="#000" stroke-width="3.6" stroke-linecap="butt"/>
<text x="0.0" y="0.0" font-size="29.5" text-anchor="middle" font-weight="normal" fill="#000" transform="translate(132.9,1206.2) scale(1.0,1.04)">0</text>
<line x1="301.6" y1="1161.0" x2="301.6" y2="1172.4" stroke="#000" stroke-width="3.6" stroke-linecap="butt"/>
<text x="0.0" y="0.0" font-size="29.5" text-anchor="middle" font-weight="normal" fill="#000" transform="translate(301.6,1206.2) scale(1.0,1.04)">5</text>
<line x1="470.3" y1="1161.0" x2="470.3" y2="1172.4" stroke="#000" stroke-width="3.6" stroke-linecap="butt"/>
<text x="0.0" y="0.0" font-size="29.5" text-anchor="middle" font-weight="normal" fill="#000" transform="translate(470.3,1206.2) scale(1.0,1.04)">10</text>
<line x1="639.0" y1="1161.0" x2="639.0" y2="1172.4" stroke="#000" stroke-width="3.6" stroke-linecap="butt"/>
<text x="0.0" y="0.0" font-size="29.5" text-anchor="middle" font-weight="normal" fill="#000" transform="translate(639.0,1206.2) scale(1.0,1.04)">15</text>
<text x="0.0" y="0.0" font-size="29.6" text-anchor="middle" font-weight="normal" fill="#000" transform="translate(385.1,1251.0) scale(1.0,1.04)">Time (d)</text>
<text x="0.0" y="0.0" font-size="29.5" text-anchor="middle" font-weight="normal" fill="#000" transform="translate(385.3,729.3) scale(1.0,1.04)">Tumor growth</text>
<text x="0.0" y="0.0" font-size="29.3" text-anchor="middle" font-weight="normal" fill="#000" transform="translate(36.7,957.0) rotate(-90) scale(1.0,1.04)">Tumor volume (mm<tspan dy="-12.6" font-size="20.5">3</tspan><tspan dy="12.6">)</tspan></text>
<line x1="267.9" y1="1047.5" x2="267.9" y2="1073.0" stroke="#000" stroke-width="5.2" stroke-linecap="butt"/>
<line x1="260.9" y1="1047.5" x2="274.9" y2="1047.5" stroke="#000" stroke-width="4.6" stroke-linecap="butt"/>
<line x1="260.9" y1="1073.0" x2="274.9" y2="1073.0" stroke="#000" stroke-width="4.6" stroke-linecap="butt"/>
<line x1="402.8" y1="991.9" x2="402.8" y2="1036.0" stroke="#000" stroke-width="5.2" stroke-linecap="butt"/>
<line x1="395.8" y1="991.9" x2="409.8" y2="991.9" stroke="#000" stroke-width="4.6" stroke-linecap="butt"/>
<line x1="395.8" y1="1036.0" x2="409.8" y2="1036.0" stroke="#000" stroke-width="4.6" stroke-linecap="butt"/>
<line x1="470.3" y1="944.6" x2="470.3" y2="994.3" stroke="#000" stroke-width="5.2" stroke-linecap="butt"/>
<line x1="463.3" y1="944.6" x2="477.3" y2="944.6" stroke="#000" stroke-width="4.6" stroke-linecap="butt"/>
<line x1="463.3" y1="994.3" x2="477.3" y2="994.3" stroke="#000" stroke-width="4.6" stroke-linecap="butt"/>
<line x1="537.8" y1="892.9" x2="537.8" y2="955.4" stroke="#000" stroke-width="5.2" stroke-linecap="butt"/>
<line x1="530.8" y1="892.9" x2="544.8" y2="892.9" stroke="#000" stroke-width="4.6" stroke-linecap="butt"/>
<line x1="530.8" y1="955.4" x2="544.8" y2="955.4" stroke="#000" stroke-width="4.6" stroke-linecap="butt"/>
<line x1="605.3" y1="796.3" x2="605.3" y2="883.7" stroke="#000" stroke-width="5.2" stroke-linecap="butt"/>
<line x1="598.3" y1="796.3" x2="612.3" y2="796.3" stroke="#000" stroke-width="4.6" stroke-linecap="butt"/>
<line x1="598.3" y1="883.7" x2="612.3" y2="883.7" stroke="#000" stroke-width="4.6" stroke-linecap="butt"/>
<polyline points="132.9,1151.0 267.9,1073.4 402.8,1014.6 470.3,970.4 537.8,923.9 605.3,839.9" fill="none" stroke="#000" stroke-width="3.2" stroke-linejoin="round"/>
<ellipse cx="267.9" cy="1073.4" rx="6.7" ry="7.9" fill="#000" stroke="none" stroke-width="0"/>
<ellipse cx="402.8" cy="1014.6" rx="6.7" ry="7.9" fill="#000" stroke="none" stroke-width="0"/>
<ellipse cx="470.3" cy="970.4" rx="6.7" ry="7.9" fill="#000" stroke="none" stroke-width="0"/>
<ellipse cx="537.8" cy="923.9" rx="6.7" ry="7.9" fill="#000" stroke="none" stroke-width="0"/>
<ellipse cx="605.3" cy="839.9" rx="6.7" ry="7.9" fill="#000" stroke="none" stroke-width="0"/>
<line x1="267.9" y1="1097.8" x2="267.9" y2="1125.0" stroke="#2b7bb5" stroke-width="4.8" stroke-linecap="butt"/>
<line x1="260.9" y1="1097.8" x2="274.9" y2="1097.8" stroke="#2b7bb5" stroke-width="3.6" stroke-linecap="butt"/>
<line x1="260.9" y1="1125.0" x2="274.9" y2="1125.0" stroke="#2b7bb5" stroke-width="3.6" stroke-linecap="butt"/>
<line x1="402.8" y1="1059.9" x2="402.8" y2="1096.3" stroke="#2b7bb5" stroke-width="4.8" stroke-linecap="butt"/>
<line x1="395.8" y1="1059.9" x2="409.8" y2="1059.9" stroke="#2b7bb5" stroke-width="3.6" stroke-linecap="butt"/>
<line x1="395.8" y1="1096.3" x2="409.8" y2="1096.3" stroke="#2b7bb5" stroke-width="3.6" stroke-linecap="butt"/>
<line x1="470.3" y1="1038.5" x2="470.3" y2="1071.9" stroke="#2b7bb5" stroke-width="4.8" stroke-linecap="butt"/>
<line x1="463.3" y1="1038.5" x2="477.3" y2="1038.5" stroke="#2b7bb5" stroke-width="3.6" stroke-linecap="butt"/>
<line x1="463.3" y1="1071.9" x2="477.3" y2="1071.9" stroke="#2b7bb5" stroke-width="3.6" stroke-linecap="butt"/>
<line x1="537.8" y1="1011.9" x2="537.8" y2="1050.0" stroke="#2b7bb5" stroke-width="4.8" stroke-linecap="butt"/>
<line x1="530.8" y1="1011.9" x2="544.8" y2="1011.9" stroke="#2b7bb5" stroke-width="3.6" stroke-linecap="butt"/>
<line x1="530.8" y1="1050.0" x2="544.8" y2="1050.0" stroke="#2b7bb5" stroke-width="3.6" stroke-linecap="butt"/>
<line x1="605.3" y1="1009.0" x2="605.3" y2="1044.0" stroke="#2b7bb5" stroke-width="4.8" stroke-linecap="butt"/>
<line x1="598.3" y1="1009.0" x2="612.3" y2="1009.0" stroke="#2b7bb5" stroke-width="3.6" stroke-linecap="butt"/>
<line x1="598.3" y1="1044.0" x2="612.3" y2="1044.0" stroke="#2b7bb5" stroke-width="3.6" stroke-linecap="butt"/>
<polyline points="132.9,1151.0 267.9,1116.0 402.8,1079.0 470.3,1055.5 537.8,1031.5 605.3,1027.5" fill="none" stroke="#2b7bb5" stroke-width="3.2" stroke-linejoin="round"/>
<polygon points="267.9,1109.4 261.2,1120.4 274.6,1120.4" fill="#2b7bb5"/>
<polygon points="402.8,1072.4 396.1,1083.4 409.5,1083.4" fill="#2b7bb5"/>
<polygon points="470.3,1048.9 463.6,1059.9 477.0,1059.9" fill="#2b7bb5"/>
<polygon points="537.8,1024.9 531.1,1035.9 544.5,1035.9" fill="#2b7bb5"/>
<polygon points="605.3,1020.9 598.6,1031.9 612.0,1031.9" fill="#2b7bb5"/>
<line x1="267.9" y1="1070.6" x2="267.9" y2="1114.5" stroke="#a3a3a6" stroke-width="4.8" stroke-linecap="butt"/>
<line x1="260.9" y1="1070.6" x2="274.9" y2="1070.6" stroke="#a3a3a6" stroke-width="3.6" stroke-linecap="butt"/>
<line x1="260.9" y1="1114.5" x2="274.9" y2="1114.5" stroke="#a3a3a6" stroke-width="3.6" stroke-linecap="butt"/>
<line x1="402.8" y1="996.1" x2="402.8" y2="1078.4" stroke="#a3a3a6" stroke-width="4.8" stroke-linecap="butt"/>
<line x1="395.8" y1="996.1" x2="409.8" y2="996.1" stroke="#a3a3a6" stroke-width="3.6" stroke-linecap="butt"/>
<line x1="395.8" y1="1078.4" x2="409.8" y2="1078.4" stroke="#a3a3a6" stroke-width="3.6" stroke-linecap="butt"/>
<line x1="470.3" y1="970.0" x2="470.3" y2="1035.5" stroke="#a3a3a6" stroke-width="4.8" stroke-linecap="butt"/>
<line x1="463.3" y1="970.0" x2="477.3" y2="970.0" stroke="#a3a3a6" stroke-width="3.6" stroke-linecap="butt"/>
<line x1="463.3" y1="1035.5" x2="477.3" y2="1035.5" stroke="#a3a3a6" stroke-width="3.6" stroke-linecap="butt"/>
<line x1="537.8" y1="901.3" x2="537.8" y2="998.8" stroke="#a3a3a6" stroke-width="4.8" stroke-linecap="butt"/>
<line x1="530.8" y1="901.3" x2="544.8" y2="901.3" stroke="#a3a3a6" stroke-width="3.6" stroke-linecap="butt"/>
<line x1="530.8" y1="998.8" x2="544.8" y2="998.8" stroke="#a3a3a6" stroke-width="3.6" stroke-linecap="butt"/>
<line x1="605.3" y1="873.2" x2="605.3" y2="976.4" stroke="#a3a3a6" stroke-width="4.8" stroke-linecap="butt"/>
<line x1="598.3" y1="873.2" x2="612.3" y2="873.2" stroke="#a3a3a6" stroke-width="3.6" stroke-linecap="butt"/>
<line x1="598.3" y1="976.4" x2="612.3" y2="976.4" stroke="#a3a3a6" stroke-width="3.6" stroke-linecap="butt"/>
<polyline points="132.9,1151.0 267.9,1089.5 402.8,1035.0 470.3,1001.3 537.8,949.0 605.3,923.0" fill="none" stroke="#a3a3a6" stroke-width="3.2" stroke-linejoin="round"/>
<polygon points="267.9,1096.1 261.2,1085.1 274.6,1085.1" fill="#a3a3a6"/>
<polygon points="402.8,1041.6 396.1,1030.6 409.5,1030.6" fill="#a3a3a6"/>
<polygon points="470.3,1007.9 463.6,996.9 477.0,996.9" fill="#a3a3a6"/>
<polygon points="537.8,955.6 531.1,944.6 544.5,944.6" fill="#a3a3a6"/>
<polygon points="605.3,929.6 598.6,918.6 612.0,918.6" fill="#a3a3a6"/>
<ellipse cx="132.9" cy="1151.0" rx="3.5" ry="4.5" fill="#a3a3a6" stroke="none" stroke-width="0"/>
<line x1="402.8" y1="1103.0" x2="402.8" y2="1105.4" stroke="#dc0c37" stroke-width="4.8" stroke-linecap="butt"/>
<line x1="402.8" y1="1121.4" x2="402.8" y2="1124.5" stroke="#dc0c37" stroke-width="4.8" stroke-linecap="butt"/>
<line x1="395.8" y1="1103.0" x2="409.8" y2="1103.0" stroke="#dc0c37" stroke-width="3.6" stroke-linecap="butt"/>
<line x1="395.8" y1="1124.5" x2="409.8" y2="1124.5" stroke="#dc0c37" stroke-width="3.6" stroke-linecap="butt"/>
<line x1="470.3" y1="1095.7" x2="470.3" y2="1099.2" stroke="#dc0c37" stroke-width="4.8" stroke-linecap="butt"/>
<line x1="470.3" y1="1115.2" x2="470.3" y2="1118.4" stroke="#dc0c37" stroke-width="4.8" stroke-linecap="butt"/>
<line x1="463.3" y1="1095.7" x2="477.3" y2="1095.7" stroke="#dc0c37" stroke-width="3.6" stroke-linecap="butt"/>
<line x1="463.3" y1="1118.4" x2="477.3" y2="1118.4" stroke="#dc0c37" stroke-width="3.6" stroke-linecap="butt"/>
<line x1="537.8" y1="1085.4" x2="537.8" y2="1088.8" stroke="#dc0c37" stroke-width="4.8" stroke-linecap="butt"/>
<line x1="537.8" y1="1104.8" x2="537.8" y2="1108.3" stroke="#dc0c37" stroke-width="4.8" stroke-linecap="butt"/>
<line x1="530.8" y1="1085.4" x2="544.8" y2="1085.4" stroke="#dc0c37" stroke-width="3.6" stroke-linecap="butt"/>
<line x1="530.8" y1="1108.3" x2="544.8" y2="1108.3" stroke="#dc0c37" stroke-width="3.6" stroke-linecap="butt"/>
<line x1="605.3" y1="1078.0" x2="605.3" y2="1081.2" stroke="#dc0c37" stroke-width="4.8" stroke-linecap="butt"/>
<line x1="605.3" y1="1097.2" x2="605.3" y2="1101.7" stroke="#dc0c37" stroke-width="4.8" stroke-linecap="butt"/>
<line x1="598.3" y1="1078.0" x2="612.3" y2="1078.0" stroke="#dc0c37" stroke-width="3.6" stroke-linecap="butt"/>
<line x1="598.3" y1="1101.7" x2="612.3" y2="1101.7" stroke="#dc0c37" stroke-width="3.6" stroke-linecap="butt"/>
<polyline points="132.9,1151.0 267.9,1133.6 402.8,1113.4 470.3,1107.2 537.8,1096.8 605.3,1089.2" fill="none" stroke="#dc0c37" stroke-width="3.2" stroke-linejoin="round"/>
<ellipse cx="132.9" cy="1151.0" rx="6.5" ry="8.2" fill="none" stroke="#dc0c37" stroke-width="4.7"/>
<ellipse cx="267.9" cy="1133.6" rx="6.5" ry="8.2" fill="none" stroke="#dc0c37" stroke-width="4.7"/>
<ellipse cx="402.8" cy="1113.4" rx="6.5" ry="8.2" fill="none" stroke="#dc0c37" stroke-width="4.7"/>
<ellipse cx="470.3" cy="1107.2" rx="6.5" ry="8.2" fill="none" stroke="#dc0c37" stroke-width="4.7"/>
<ellipse cx="537.8" cy="1096.8" rx="6.5" ry="8.2" fill="none" stroke="#dc0c37" stroke-width="4.7"/>
<ellipse cx="605.3" cy="1089.2" rx="6.5" ry="8.2" fill="none" stroke="#dc0c37" stroke-width="4.7"/>
<line x1="676.9" y1="820.4" x2="712.5" y2="820.4" stroke="#000" stroke-width="3.6" stroke-linecap="butt"/>
<ellipse cx="694.7" cy="820.4" rx="6.5" ry="6.7" fill="#000" stroke="none" stroke-width="0"/>
<text x="0.0" y="0.0" font-size="25.0" text-anchor="start" font-weight="normal" fill="#000" transform="translate(724.0,829.0) scale(1.0,1.04)">Saline</text>
<line x1="676.9" y1="885.1" x2="712.5" y2="885.1" stroke="#2b7bb5" stroke-width="3.6" stroke-linecap="butt"/>
<polygon points="694.5,877.2 688.0,890.4 701.0,890.4" fill="#2b7bb5"/>
<text x="0.0" y="0.0" font-size="25.0" text-anchor="start" font-weight="normal" fill="#000" transform="translate(724.0,893.7) scale(1.0,1.04)">PARPi</text>
<line x1="676.9" y1="950.9" x2="712.5" y2="950.9" stroke="#a3a3a6" stroke-width="3.6" stroke-linecap="butt"/>
<polygon points="694.5,958.8 688.0,945.6 701.0,945.6" fill="#a3a3a6"/>
<text x="0.0" y="0.0" font-size="25.0" text-anchor="start" font-weight="normal" fill="#000" transform="translate(724.0,959.5) scale(1.0,1.04)">Saline</text>
<line x1="676.9" y1="1019.9" x2="712.5" y2="1019.9" stroke="#dc0c37" stroke-width="3.6" stroke-linecap="butt"/>
<ellipse cx="694.8" cy="1019.9" rx="6.8" ry="6.4" fill="none" stroke="#dc0c37" stroke-width="4.6"/>
<text x="0.0" y="0.0" font-size="25.0" text-anchor="start" font-weight="normal" fill="#000" transform="translate(724.0,1028.5) scale(1.0,1.04)">PARPi</text>
<line x1="807.0" y1="802.0" x2="807.0" y2="907.7" stroke="#000" stroke-width="2" stroke-linecap="butt"/>
<line x1="807.0" y1="936.5" x2="807.0" y2="1042.7" stroke="#000" stroke-width="2" stroke-linecap="butt"/>
<text x="0.0" y="0.0" font-size="24.8" text-anchor="middle" font-weight="normal" fill="#000" transform="translate(843.5,857.0) rotate(-90) scale(1.0,1.04)">Lv-NC</text>
<text x="0.0" y="0.0" font-size="24.8" text-anchor="middle" font-weight="normal" fill="#000" transform="translate(843.5,993.6) rotate(-90) scale(1.0,1.04)">Lv-shTRDMT1</text>
</g>
<g>
<text x="0.0" y="0.0" font-size="41" text-anchor="start" font-weight="bold" fill="#000" transform="translate(890.6,689.4) scale(1.12,1.0)">d</text>
<line x1="1021.0" y1="774.3" x2="1021.0" y2="1103.2" stroke="#000" stroke-width="3" stroke-linecap="butt"/>
<line x1="1015.2" y1="1101.6" x2="1340.0" y2="1101.6" stroke="#000" stroke-width="3.2" stroke-linecap="butt"/>
<line x1="1013.4" y1="846.5" x2="1021.0" y2="846.5" stroke="#000" stroke-width="3" stroke-linecap="butt"/>
<text x="0.0" y="0.0" font-size="29.5" text-anchor="end" font-weight="normal" fill="#000" transform="translate(1002.0,857.0) scale(1.0,1.04)">200</text>
<line x1="1013.4" y1="974.0" x2="1021.0" y2="974.0" stroke="#000" stroke-width="3" stroke-linecap="butt"/>
<text x="0.0" y="0.0" font-size="29.5" text-anchor="end" font-weight="normal" fill="#000" transform="translate(1002.0,984.5) scale(1.0,1.04)">100</text>
<line x1="1013.4" y1="1101.6" x2="1021.0" y2="1101.6" stroke="#000" stroke-width="3" stroke-linecap="butt"/>
<text x="0.0" y="0.0" font-size="29.5" text-anchor="end" font-weight="normal" fill="#000" transform="translate(1002.0,1112.1) scale(1.0,1.04)">0</text>
<line x1="1070.3" y1="1101.6" x2="1070.3" y2="1111.0" stroke="#000" stroke-width="3.3" stroke-linecap="butt"/>
<line x1="1143.7" y1="1101.6" x2="1143.7" y2="1111.0" stroke="#000" stroke-width="3.3" stroke-linecap="butt"/>
<line x1="1217.0" y1="1101.6" x2="1217.0" y2="1111.0" stroke="#000" stroke-width="3.3" stroke-linecap="butt"/>
<line x1="1290.0" y1="1101.6" x2="1290.0" y2="1111.0" stroke="#000" stroke-width="3.3" stroke-linecap="butt"/>
<ellipse cx="1070.4" cy="805.0" rx="5.75" ry="6.35" fill="#000" stroke="none" stroke-width="0"/>
<ellipse cx="1070.4" cy="828.5" rx="5.75" ry="6.35" fill="#000" stroke="none" stroke-width="0"/>
<ellipse cx="1070.4" cy="915.7" rx="5.75" ry="6.35" fill="#000" stroke="none" stroke-width="0"/>
<rect x="1138.2" y="915.6" width="11.0" height="12.0" fill="#333"/>
<rect x="1146.3" y="970.3" width="11.0" height="12.0" fill="#333"/>
<rect x="1129.5" y="985.1" width="11.0" height="12.0" fill="#333"/>
<polygon points="1216.8,769.3 1211.2,782.1 1222.4,782.1" fill="#333"/>
<polygon points="1216.8,899.3 1211.2,912.1 1222.4,912.1" fill="#333"/>
<polygon points="1216.8,944.9 1211.2,957.7 1222.4,957.7" fill="#333"/>
<polygon points="1290.0,1018.7 1284.5,1005.9 1295.5,1005.9" fill="#333"/>
<polygon points="1290.0,1041.2 1284.5,1028.4 1295.5,1028.4" fill="#333"/>
<polygon points="1290.0,1065.3 1284.5,1052.5 1295.5,1052.5" fill="#333"/>
<polyline points="1048.3,1100.0 1048.3,852.0 1092.5,852.0 1092.5,1100.0" fill="none" stroke="#000" stroke-width="4.2" stroke-linejoin="round"/>
<polyline points="1121.6,1100.0 1121.6,966.8 1165.2,966.8 1165.2,1100.0" fill="none" stroke="#4051a3" stroke-width="4.2" stroke-linejoin="round"/>
<polyline points="1194.5,1100.0 1194.5,880.8 1239.4,880.8 1239.4,1100.0" fill="none" stroke="#a3a3a6" stroke-width="4" stroke-linejoin="round"/>
<polyline points="1267.8,1100.0 1267.8,1037.3 1311.5,1037.3 1311.5,1100.0" fill="none" stroke="#e8403f" stroke-width="4.5" stroke-linejoin="round"/>
<line x1="1070.4" y1="791.2" x2="1070.4" y2="908.2" stroke="#000" stroke-width="4.2" stroke-linecap="butt"/>
<line x1="1058.0" y1="791.2" x2="1082.8" y2="791.2" stroke="#000" stroke-width="4.7" stroke-linecap="butt"/>
<line x1="1058.0" y1="908.2" x2="1082.8" y2="908.2" stroke="#000" stroke-width="4.7" stroke-linecap="butt"/>
<line x1="1143.9" y1="928.1" x2="1143.9" y2="999.8" stroke="#4051a3" stroke-width="4.2" stroke-linecap="butt"/>
<line x1="1131.5" y1="928.1" x2="1156.3" y2="928.1" stroke="#4051a3" stroke-width="4.2" stroke-linecap="butt"/>
<line x1="1131.5" y1="999.8" x2="1156.3" y2="999.8" stroke="#4051a3" stroke-width="4.2" stroke-linecap="butt"/>
<line x1="1217.0" y1="825.1" x2="1217.0" y2="930.0" stroke="#a3a3a6" stroke-width="4.2" stroke-linecap="butt"/>
<line x1="1204.6" y1="825.1" x2="1229.4" y2="825.1" stroke="#a3a3a6" stroke-width="4.2" stroke-linecap="butt"/>
<line x1="1204.6" y1="930.0" x2="1229.4" y2="930.0" stroke="#a3a3a6" stroke-width="4.2" stroke-linecap="butt"/>
<line x1="1290.0" y1="1011.9" x2="1290.0" y2="1057.7" stroke="#e8403f" stroke-width="4.2" stroke-linecap="butt"/>
<line x1="1277.6" y1="1011.9" x2="1302.4" y2="1011.9" stroke="#e8403f" stroke-width="4.2" stroke-linecap="butt"/>
<line x1="1277.6" y1="1057.7" x2="1302.4" y2="1057.7" stroke="#e8403f" stroke-width="4.2" stroke-linecap="butt"/>
<text x="0.0" y="0.0" font-size="25.2" text-anchor="middle" font-weight="normal" fill="#000" transform="translate(1142.9,904.3) scale(1.0,1.04)">−45.2%</text>
<text x="0.0" y="0.0" font-size="25.2" text-anchor="middle" font-weight="normal" fill="#000" transform="translate(1291.5,990.3) scale(1.0,1.04)">−69.9%</text>
<text x="0.0" y="0.0" font-size="28.9" text-anchor="middle" font-weight="normal" fill="#000" transform="translate(1176.6,684.1) scale(1.0,1.04)">Tumor size at day 12</text>
<line x1="1071.5" y1="718.8" x2="1292.0" y2="718.8" stroke="#000" stroke-width="2.5" stroke-linecap="butt"/>
<line x1="1145.0" y1="745.0" x2="1292.9" y2="745.0" stroke="#000" stroke-width="2.5" stroke-linecap="butt"/>
<line x1="1219.3" y1="762.1" x2="1293.8" y2="762.1" stroke="#000" stroke-width="2.5" stroke-linecap="butt"/>
<line x1="1071.5" y1="771.2" x2="1145.9" y2="771.2" stroke="#000" stroke-width="2.5" stroke-linecap="butt"/>
<text x="0.0" y="0.0" font-size="24.5" text-anchor="middle" font-weight="normal" fill="#000" transform="translate(1184.7,718.7) scale(1.0,0.9)">***</text>
<text x="0.0" y="0.0" font-size="24.5" text-anchor="middle" font-weight="normal" fill="#000" transform="translate(1220.0,747.6) scale(1.0,0.9)">*</text>
<text x="0.0" y="0.0" font-size="24.5" text-anchor="middle" font-weight="normal" fill="#000" transform="translate(1259.0,767.0) scale(1.0,0.9)">*</text>
<text x="0.0" y="0.0" font-size="24.5" text-anchor="middle" font-weight="normal" fill="#000" transform="translate(1107.4,770.2) scale(1.0,0.9)">*</text>
<text x="0.0" y="0.0" font-size="29.5" text-anchor="end" font-weight="normal" fill="#000" transform="translate(1080.5,1123.7) rotate(-90) scale(1.0,1.04)">Saline</text>
<text x="0.0" y="0.0" font-size="29.5" text-anchor="end" font-weight="normal" fill="#000" transform="translate(1153.9,1123.7) rotate(-90) scale(1.0,1.04)">PARPi</text>
<text x="0.0" y="0.0" font-size="29.5" text-anchor="end" font-weight="normal" fill="#000" transform="translate(1227.2,1123.7) rotate(-90) scale(1.0,1.04)">Saline</text>
<text x="0.0" y="0.0" font-size="29.5" text-anchor="end" font-weight="normal" fill="#000" transform="translate(1300.2,1123.7) rotate(-90) scale(1.0,1.04)">PARPi</text>
<line x1="1047.5" y1="1216.8" x2="1168.9" y2="1216.8" stroke="#000" stroke-width="2.5" stroke-linecap="butt"/>
<line x1="1195.2" y1="1216.8" x2="1315.2" y2="1216.8" stroke="#000" stroke-width="2.5" stroke-linecap="butt"/>
<text x="0.0" y="0.0" font-size="29.3" text-anchor="middle" font-weight="normal" fill="#000" transform="translate(1113.8,1253.9) scale(1.0,1.04)">Lv-NC</text>
<text x="0.0" y="0.0" font-size="28.9" text-anchor="middle" font-weight="normal" fill="#000" transform="translate(1264.6,1253.9) scale(1.0,1.04)">Lv-shTRDMT1</text>
<text x="0.0" y="0.0" font-size="29.2" text-anchor="middle" font-weight="normal" fill="#000" transform="translate(929.4,952.8) rotate(-90) scale(1.0,1.04)">Tumor size (mm<tspan dy="-12.6" font-size="20.5">3</tspan><tspan dy="12.6">)</tspan></text>
</g>
</svg>
</body></html>
